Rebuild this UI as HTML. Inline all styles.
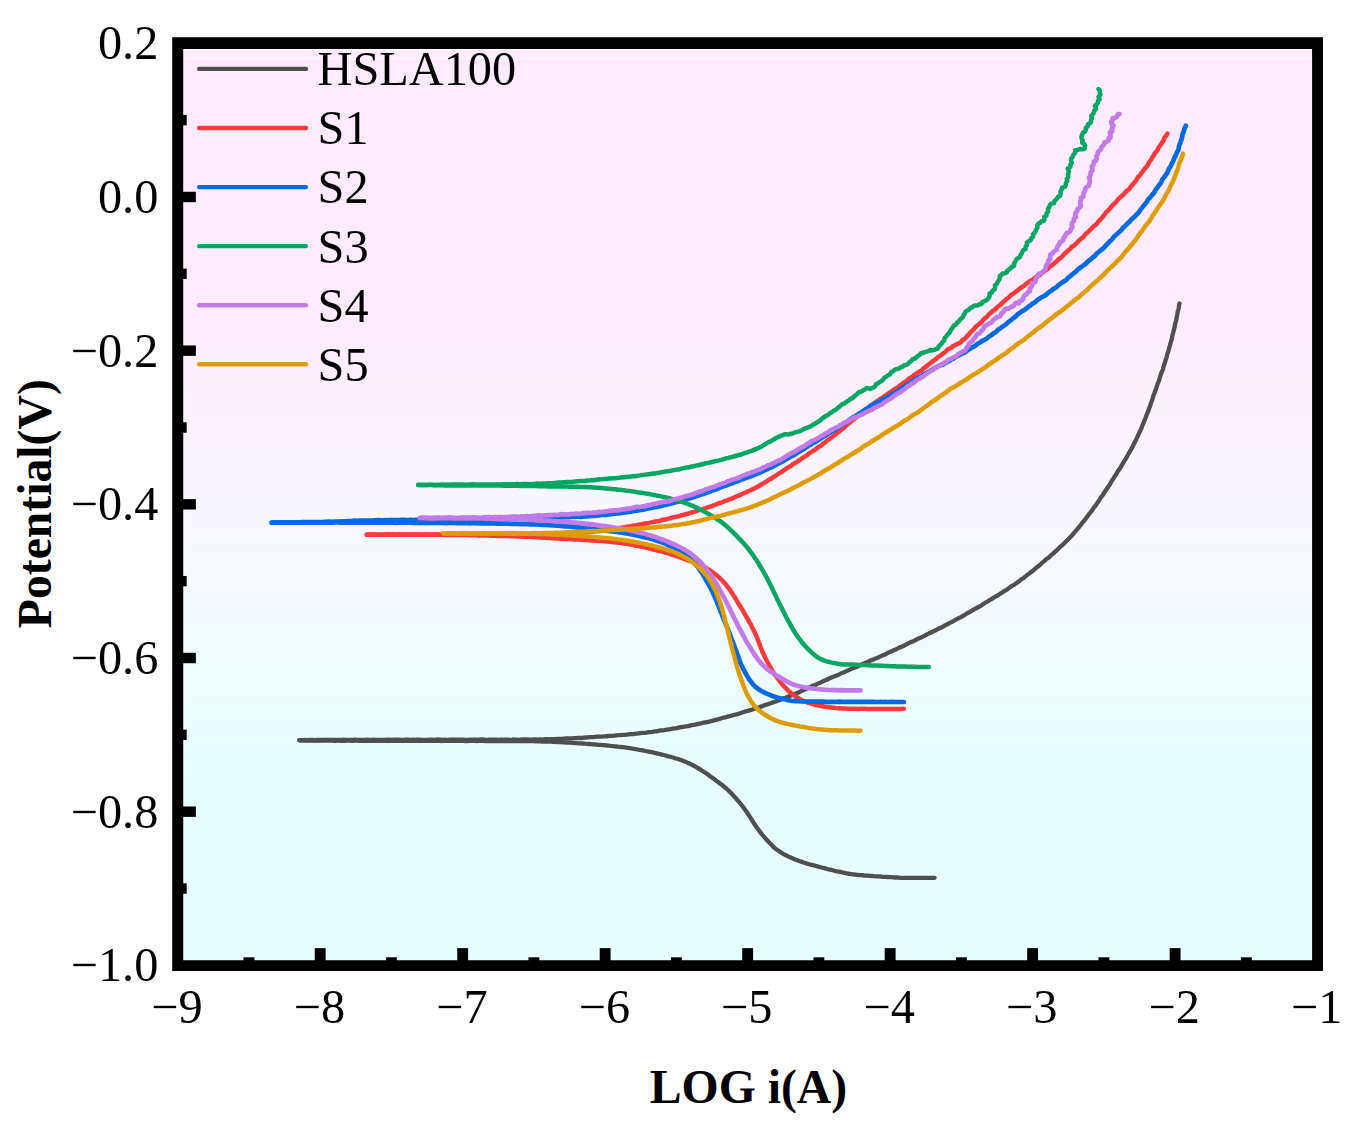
<!DOCTYPE html>
<html><head><meta charset="utf-8"><title>Polarization curves</title>
<style>
html,body{margin:0;padding:0;background:#fff;}
body{width:1350px;height:1122px;overflow:hidden;}
svg{display:block;}
text{font-family:"Liberation Serif",serif;fill:#000;}
</style></head><body>
<svg width="1350" height="1122" viewBox="0 0 1350 1122">
<defs>
<linearGradient id="bg" x1="0" y1="0" x2="0" y2="1">
<stop offset="0" stop-color="#ffebfe"/>
<stop offset="0.26" stop-color="#ffebfe"/>
<stop offset="0.42" stop-color="#fbf3fd"/>
<stop offset="0.56" stop-color="#f6f8fe"/>
<stop offset="0.69" stop-color="#eefcfe"/>
<stop offset="0.80" stop-color="#e6fffe"/>
<stop offset="1" stop-color="#e6fffe"/>
</linearGradient>
</defs>
<rect x="0" y="0" width="1350" height="1122" fill="#fff"/>
<rect x="184.2" y="49.9" width="1130" height="912" fill="url(#bg)"/>
<rect x="184.2" y="49.9" width="1130" height="10.2" fill="#ffeffe"/>
<rect x="184.2" y="60.1" width="1130" height="3" fill="#ffe7fd"/>
<path d="M299.3,740.3 L300.3,740.3 L301.2,740.2 L302.0,740.3 L303.0,740.4 L304.0,740.5 L305.1,740.5 L306.4,740.5 L308.0,740.5 L309.8,740.5 L312.0,740.6 L314.6,740.6 L317.7,740.6 L321.2,740.6 L325.3,740.7 L330.0,740.7 L331.3,740.7 L332.6,740.7 L334.0,740.8 L335.5,740.8 L337.0,740.7 L338.6,740.7 L340.2,740.8 L341.9,740.8 L343.6,740.8 L345.4,740.8 L347.2,740.7 L349.1,740.7 L351.0,740.8 L352.9,740.8 L354.9,740.7 L356.9,740.7 L358.9,740.8 L361.0,740.8 L363.1,740.8 L365.2,740.8 L367.4,740.7 L369.6,740.9 L371.8,740.8 L374.0,740.8 L376.2,740.8 L378.4,740.7 L380.7,740.8 L383.0,740.8 L385.3,740.8 L387.5,740.8 L389.8,740.9 L392.1,740.9 L394.4,740.8 L396.7,740.8 L399.0,740.8 L401.3,740.8 L403.6,740.8 L405.9,740.8 L408.1,740.8 L410.4,740.9 L412.6,740.9 L414.9,740.8 L417.1,740.9 L419.3,740.9 L421.4,740.8 L423.6,740.8 L425.7,740.8 L427.8,740.8 L429.8,740.9 L431.9,740.8 L433.9,740.8 L435.8,740.9 L437.7,740.9 L439.6,740.9 L441.5,741.0 L443.3,740.9 L445.0,740.9 L446.7,740.9 L448.4,740.9 L450.0,740.9 L452.7,740.9 L455.3,740.9 L457.9,740.9 L460.4,740.9 L462.9,740.9 L465.3,741.0 L467.7,741.0 L470.1,740.9 L472.4,740.9 L474.6,740.9 L476.8,741.0 L479.0,740.9 L481.1,740.9 L483.2,740.9 L485.2,741.0 L487.2,741.0 L489.2,741.0 L491.2,741.0 L493.1,740.9 L494.9,741.0 L496.8,741.0 L498.6,741.0 L500.4,740.9 L502.1,741.0 L503.9,741.0 L505.6,741.0 L507.3,741.0 L508.9,741.0 L510.6,741.0 L512.2,741.0 L513.8,741.1 L515.3,741.1 L516.9,741.1 L518.5,741.1 L520.0,741.1 L522.7,741.1 L525.2,741.2 L527.6,741.1 L529.7,741.1 L531.8,741.2 L533.7,741.2 L535.5,741.3 L537.3,741.3 L539.0,741.3 L540.6,741.3 L542.3,741.5 L543.9,741.5 L545.6,741.5 L547.2,741.5 L549.0,741.6 L550.8,741.7 L552.8,741.8 L554.8,741.9 L557.0,742.0 L558.8,742.0 L560.6,742.2 L562.4,742.3 L564.3,742.4 L566.3,742.5 L568.3,742.6 L570.3,742.7 L572.3,742.9 L574.4,743.0 L576.5,743.1 L578.6,743.3 L580.7,743.4 L582.8,743.5 L584.9,743.7 L586.9,743.8 L589.0,744.0 L591.1,744.2 L593.1,744.4 L595.1,744.5 L597.0,744.6 L598.9,744.8 L600.8,744.9 L602.6,745.1 L604.3,745.2 L606.0,745.3 L608.4,745.6 L610.6,745.9 L612.8,746.1 L614.9,746.3 L617.0,746.5 L618.9,746.8 L620.9,747.0 L622.7,747.2 L624.6,747.4 L626.4,747.7 L628.2,748.0 L630.0,748.2 L631.9,748.5 L633.7,748.8 L635.6,749.1 L637.5,749.5 L639.4,749.9 L641.4,750.2 L643.4,750.5 L645.4,751.0 L647.5,751.4 L649.6,751.8 L651.7,752.2 L653.8,752.6 L655.8,753.1 L657.9,753.6 L659.9,754.0 L661.9,754.6 L663.9,755.0 L665.8,755.5 L667.6,756.1 L669.5,756.5 L671.2,757.0 L672.9,757.5 L675.1,758.2 L677.3,758.8 L679.3,759.5 L681.2,760.1 L683.0,760.8 L684.7,761.6 L686.5,762.3 L688.2,763.0 L689.9,763.8 L691.6,764.6 L693.4,765.5 L695.2,766.5 L696.9,767.5 L698.7,768.5 L700.5,769.6 L702.3,770.8 L704.1,772.0 L706.0,773.2 L707.8,774.4 L709.5,775.7 L711.2,777.0 L712.9,778.1 L714.5,779.3 L716.0,780.5 L717.4,781.5 L719.3,782.9 L721.0,784.2 L722.6,785.3 L724.0,786.6 L725.4,787.8 L726.8,788.9 L728.1,790.2 L729.5,791.5 L731.0,793.0 L732.2,794.3 L733.4,795.6 L734.7,797.0 L736.0,798.4 L737.2,799.8 L738.5,801.3 L739.8,802.8 L741.0,804.4 L742.3,805.9 L743.5,807.5 L744.7,809.2 L745.8,810.8 L747.0,812.4 L748.1,814.1 L749.2,815.8 L750.3,817.5 L751.4,819.3 L752.6,821.0 L753.7,822.8 L754.8,824.5 L755.9,826.2 L757.0,827.7 L758.1,829.3 L759.5,831.1 L760.8,832.9 L762.2,834.6 L763.7,836.3 L765.0,837.9 L766.4,839.5 L767.8,841.0 L769.1,842.4 L770.3,843.7 L771.5,844.8 L773.1,846.6 L774.5,847.9 L775.9,849.0 L777.2,849.9 L778.5,850.9 L780.0,851.8 L781.5,852.8 L783.1,853.8 L784.8,854.7 L786.5,855.5 L788.2,856.4 L790.0,857.3 L791.9,858.1 L793.8,858.9 L795.8,859.7 L797.8,860.4 L799.8,861.2 L802.0,861.9 L803.7,862.5 L805.3,863.0 L806.8,863.6 L808.5,864.0 L810.5,864.6 L813.0,865.2 L816.0,866.0 L817.5,866.4 L819.0,866.8 L820.7,867.2 L822.5,867.7 L824.4,868.2 L826.3,868.7 L828.3,869.3 L830.4,869.7 L832.5,870.2 L834.7,870.8 L836.8,871.3 L839.0,871.7 L841.1,872.2 L843.3,872.6 L845.3,873.1 L847.4,873.5 L849.4,873.8 L851.4,874.1 L853.4,874.5 L855.4,874.7 L857.5,874.9 L859.6,875.1 L861.7,875.2 L863.7,875.5 L865.8,875.6 L867.9,875.7 L869.9,875.9 L871.9,876.0 L873.9,876.2 L875.8,876.3 L877.7,876.4 L879.5,876.4 L881.2,876.6 L882.9,876.8 L885.3,876.9 L887.5,877.0 L889.6,877.1 L891.5,877.2 L893.4,877.4 L895.2,877.5 L897.0,877.5 L898.9,877.6 L900.9,877.8 L902.9,877.8 L905.2,877.8 L907.0,877.9 L909.0,877.8 L911.1,877.9 L913.3,877.9 L915.6,877.8 L917.9,877.9 L920.2,877.9 L922.4,877.9 L924.6,877.9 L926.7,877.8 L928.7,877.9 L930.5,877.9 L932.1,877.8 L933.5,877.8 L934.6,877.8" fill="none" stroke="#4f4f4f" stroke-width="4.3" stroke-linecap="round" stroke-linejoin="round"/>
<path d="M299.3,740.2 L300.3,740.3 L301.2,740.2 L302.0,740.2 L303.0,740.1 L303.9,740.1 L305.1,740.0 L306.4,740.1 L308.0,740.2 L309.8,740.0 L312.0,740.0 L314.6,740.1 L317.7,740.0 L321.2,740.0 L325.3,739.8 L330.0,739.8 L331.3,739.9 L332.6,739.9 L334.0,739.9 L335.5,739.8 L337.0,739.9 L338.6,740.0 L340.2,740.0 L341.9,739.8 L343.6,739.7 L345.4,739.8 L347.2,739.8 L349.1,739.8 L351.0,739.9 L352.9,739.9 L354.9,739.7 L356.9,739.8 L358.9,740.0 L361.0,739.9 L363.1,739.8 L365.2,739.8 L367.4,739.7 L369.6,739.8 L371.8,739.9 L374.0,739.7 L376.2,739.8 L378.4,739.8 L380.7,739.8 L383.0,740.0 L385.3,739.8 L387.5,739.6 L389.8,739.7 L392.1,739.8 L394.4,739.7 L396.7,739.7 L399.0,739.7 L401.3,739.9 L403.6,740.0 L405.9,739.7 L408.1,739.7 L410.4,739.8 L412.6,739.7 L414.9,739.8 L417.1,739.6 L419.3,739.6 L421.4,739.8 L423.6,739.9 L425.7,739.8 L427.8,739.8 L429.8,739.7 L431.9,739.6 L433.9,739.8 L435.8,739.7 L437.7,739.5 L439.6,739.6 L441.5,739.7 L443.3,739.8 L445.0,739.7 L446.7,739.8 L448.4,739.8 L450.0,739.6 L452.7,739.7 L455.3,739.7 L457.9,739.6 L460.4,739.6 L462.9,739.6 L465.3,739.8 L467.7,739.9 L470.1,739.6 L472.4,739.7 L474.6,739.7 L476.8,739.6 L479.0,739.7 L481.1,739.5 L483.2,739.5 L485.2,739.7 L487.2,739.8 L489.2,739.7 L491.2,739.7 L493.1,739.7 L494.9,739.7 L496.8,739.7 L498.6,739.8 L500.4,739.7 L502.1,739.6 L503.9,739.6 L505.6,739.6 L507.3,739.6 L508.9,739.7 L510.6,739.8 L512.2,739.7 L513.8,739.5 L515.4,739.6 L516.9,739.7 L518.5,739.8 L520.0,739.6 L522.7,739.5 L525.2,739.5 L527.6,739.5 L529.7,739.6 L531.8,739.6 L533.7,739.4 L535.5,739.5 L537.3,739.6 L539.0,739.5 L540.6,739.5 L542.3,739.6 L543.9,739.4 L545.6,739.2 L547.2,739.2 L549.0,739.3 L550.8,739.2 L552.8,739.1 L554.8,739.1 L557.0,739.0 L558.7,739.0 L560.5,739.0 L562.4,738.9 L564.2,738.7 L566.1,738.5 L568.0,738.5 L570.0,738.3 L571.9,738.3 L573.9,738.2 L575.9,738.1 L578.0,737.9 L580.0,738.0 L582.1,738.0 L584.1,737.7 L586.1,737.5 L588.2,737.4 L590.2,737.1 L592.3,737.2 L594.3,737.1 L596.3,736.7 L598.3,736.7 L600.3,736.6 L602.2,736.6 L604.1,736.4 L606.0,736.3 L608.1,736.0 L610.2,735.8 L612.3,735.8 L614.4,735.6 L616.4,735.3 L618.5,735.2 L620.5,735.1 L622.5,734.9 L624.6,734.9 L626.6,734.7 L628.6,734.3 L630.6,734.2 L632.6,734.1 L634.6,733.8 L636.6,733.6 L638.6,733.4 L640.5,733.1 L642.5,732.9 L644.6,732.9 L646.6,732.6 L648.6,732.2 L650.6,732.1 L652.6,731.8 L654.5,731.4 L656.5,731.3 L658.5,730.9 L660.5,730.4 L662.5,730.3 L664.5,730.1 L666.6,729.7 L668.6,729.5 L670.6,729.1 L672.6,728.7 L674.6,728.4 L676.6,728.2 L678.6,727.7 L680.5,727.2 L682.4,727.0 L684.3,726.6 L686.2,726.3 L688.1,726.1 L689.9,725.6 L691.7,725.2 L693.5,724.9 L695.2,724.7 L697.5,724.1 L699.7,723.7 L701.8,723.1 L703.9,722.5 L706.1,722.3 L708.1,721.8 L710.1,721.3 L712.0,720.8 L714.0,720.3 L715.9,719.8 L717.7,719.4 L719.6,718.9 L721.4,718.3 L723.2,717.7 L725.0,717.4 L726.8,716.9 L728.6,716.4 L730.7,715.9 L732.8,715.3 L734.7,714.7 L736.6,714.3 L738.5,713.8 L740.3,713.2 L742.1,712.5 L744.0,712.0 L745.8,711.3 L747.7,710.9 L749.6,710.4 L751.6,709.7 L753.6,708.9 L755.7,708.4 L757.4,707.9 L759.2,707.2 L760.9,706.6 L762.7,706.0 L764.5,705.2 L766.3,704.6 L768.2,704.1 L770.1,703.4 L772.0,702.7 L773.9,702.1 L775.8,701.4 L777.8,700.7 L779.7,700.1 L781.6,699.3 L783.4,698.4 L785.4,697.8 L787.3,697.1 L789.1,696.3 L790.9,695.5 L792.8,694.8 L794.7,693.9 L796.6,693.3 L798.5,692.6 L800.3,691.6 L802.1,690.7 L804.0,689.9 L805.8,689.0 L807.7,688.2 L809.6,687.4 L811.4,686.4 L813.3,685.6 L815.2,684.9 L817.1,684.1 L818.9,683.2 L820.8,682.4 L822.6,681.5 L824.4,680.6 L826.4,680.0 L828.2,679.0 L830.1,678.1 L832.0,677.3 L834.0,676.5 L835.9,675.7 L837.8,675.0 L839.7,674.2 L841.5,673.2 L843.5,672.5 L845.3,671.7 L847.1,670.8 L849.0,670.1 L850.8,669.2 L852.5,668.3 L854.3,667.7 L856.1,667.1 L858.0,666.2 L859.9,665.3 L861.8,664.5 L863.6,663.7 L865.3,662.9 L867.1,662.3 L868.8,661.4 L870.5,660.5 L872.3,659.9 L874.0,659.2 L875.8,658.4 L877.7,657.7 L879.5,656.8 L881.4,655.9 L883.4,655.1 L885.2,654.4 L886.9,653.4 L888.6,652.5 L890.4,651.8 L892.2,650.9 L894.1,650.1 L896.0,649.4 L897.9,648.4 L899.7,647.4 L901.7,646.7 L903.7,645.8 L905.5,644.8 L907.4,643.9 L909.3,642.8 L911.2,642.0 L913.2,641.2 L915.1,640.3 L916.9,639.3 L918.6,638.5 L920.5,637.8 L922.2,636.9 L924.0,636.1 L925.7,635.2 L927.4,634.2 L929.2,633.3 L931.0,632.5 L932.7,631.7 L934.5,630.8 L936.3,630.0 L938.0,629.0 L939.7,628.1 L941.6,627.4 L943.3,626.5 L945.0,625.4 L946.8,624.5 L948.5,623.6 L950.3,622.7 L952.1,621.8 L953.8,620.9 L955.5,619.8 L957.3,618.8 L959.1,618.0 L960.9,617.1 L962.6,616.1 L964.4,615.1 L966.1,614.0 L967.8,612.9 L969.7,612.1 L971.4,611.0 L973.1,609.9 L974.9,608.9 L976.7,608.0 L978.5,607.0 L980.3,606.1 L982.0,605.0 L983.7,603.7 L985.3,602.7 L987.1,601.8 L988.8,600.7 L990.5,599.7 L992.2,598.6 L993.9,597.5 L995.6,596.5 L997.5,595.6 L999.1,594.5 L1000.8,593.3 L1002.5,592.3 L1004.2,591.1 L1005.9,590.1 L1007.6,589.1 L1009.2,587.9 L1010.7,586.7 L1012.4,585.7 L1014.1,584.8 L1015.6,583.8 L1017.1,582.6 L1018.9,581.4 L1020.5,580.0 L1022.2,578.8 L1024.0,577.8 L1025.5,576.4 L1027.1,575.1 L1028.7,573.9 L1030.3,572.7 L1031.9,571.5 L1033.5,570.3 L1034.9,569.0 L1036.3,567.7 L1037.9,566.5 L1039.5,565.3 L1040.9,564.0 L1042.3,562.6 L1043.9,561.4 L1045.3,560.0 L1046.9,558.7 L1048.6,557.6 L1050.0,556.3 L1051.5,554.9 L1053.0,553.6 L1054.5,552.3 L1056.0,550.9 L1057.5,549.6 L1058.9,548.2 L1060.2,546.8 L1061.7,545.6 L1063.2,544.3 L1064.5,543.0 L1065.8,541.7 L1067.2,540.4 L1068.4,539.1 L1069.9,537.5 L1071.4,536.1 L1072.8,534.5 L1074.0,532.8 L1075.3,531.3 L1076.6,529.8 L1078.0,528.3 L1079.2,526.8 L1080.5,525.4 L1081.6,523.8 L1082.7,522.3 L1084.0,521.0 L1085.1,519.5 L1086.2,518.0 L1087.5,516.4 L1088.6,514.7 L1089.8,513.1 L1091.1,511.7 L1092.3,510.2 L1093.2,508.6 L1094.3,507.1 L1095.5,505.6 L1096.6,504.0 L1097.7,502.4 L1098.9,500.8 L1100.0,499.0 L1100.9,497.4 L1102.1,495.9 L1103.2,494.4 L1104.2,492.7 L1105.3,491.0 L1106.5,489.4 L1107.5,487.7 L1108.7,486.1 L1109.9,484.4 L1110.8,482.6 L1111.8,480.9 L1112.9,479.3 L1114.0,477.6 L1115.0,476.0 L1116.2,474.3 L1117.1,472.5 L1118.2,470.7 L1119.5,469.1 L1120.6,467.4 L1121.6,465.6 L1122.6,463.9 L1123.6,462.2 L1124.6,460.5 L1125.7,458.9 L1126.7,457.2 L1127.5,455.6 L1128.4,453.9 L1129.5,452.2 L1130.5,450.4 L1131.6,448.7 L1132.5,447.0 L1133.2,445.3 L1134.0,443.6 L1135.0,442.0 L1135.8,440.3 L1136.6,438.5 L1137.4,436.8 L1138.3,435.0 L1139.0,433.3 L1139.8,431.6 L1140.7,429.9 L1141.5,428.2 L1142.1,426.3 L1142.8,424.5 L1143.6,422.8 L1144.3,420.9 L1145.1,419.2 L1145.8,417.3 L1146.4,415.5 L1147.1,413.7 L1147.9,411.9 L1148.6,410.1 L1149.2,408.2 L1150.0,406.4 L1150.5,404.5 L1151.1,402.6 L1151.9,400.8 L1152.5,398.9 L1153.0,397.0 L1153.6,395.1 L1154.4,393.3 L1155.0,391.4 L1155.7,389.6 L1156.4,387.7 L1157.0,385.8 L1157.6,383.9 L1158.4,382.2 L1159.1,380.3 L1159.6,378.4 L1160.2,376.5 L1160.8,374.6 L1161.4,372.8 L1162.3,371.0 L1163.0,369.2 L1163.4,367.2 L1163.9,365.4 L1164.6,363.6 L1165.2,361.7 L1165.7,359.8 L1166.4,358.0 L1166.8,356.1 L1167.2,354.3 L1167.9,352.5 L1168.5,350.6 L1169.0,348.8 L1169.5,346.9 L1170.1,344.9 L1170.6,342.8 L1171.2,340.8 L1171.8,338.8 L1172.1,336.7 L1172.6,334.7 L1173.2,332.6 L1173.7,330.6 L1174.2,328.6 L1174.7,326.6 L1175.0,324.6 L1175.5,322.5 L1176.2,320.4 L1176.5,318.2 L1177.0,315.9 L1177.4,313.7 L1177.8,311.5 L1178.4,309.5 L1178.8,307.6 L1179.0,305.9 L1179.2,304.5 L1179.6,303.4" fill="none" stroke="#4f4f4f" stroke-width="4.3" stroke-linecap="round" stroke-linejoin="round"/>
<path d="M366.7,534.7 L367.7,534.7 L368.9,534.7 L370.1,534.7 L371.4,534.7 L372.9,534.6 L374.3,534.7 L375.9,534.7 L377.6,534.7 L379.3,534.7 L381.1,534.8 L382.9,534.7 L384.8,534.7 L386.8,534.7 L388.8,534.7 L390.8,534.7 L393.0,534.6 L395.1,534.7 L397.3,534.7 L399.5,534.7 L401.7,534.7 L404.0,534.7 L406.3,534.7 L408.6,534.7 L410.9,534.7 L413.2,534.7 L415.5,534.7 L417.8,534.8 L420.1,534.7 L422.4,534.8 L424.7,534.7 L427.0,534.7 L429.3,534.8 L431.5,534.7 L433.7,534.8 L435.9,534.7 L438.1,534.8 L440.2,534.8 L442.2,534.8 L444.3,534.9 L446.2,534.8 L448.1,534.9 L450.0,534.9 L452.2,534.9 L454.4,534.9 L456.6,534.9 L458.8,535.1 L461.0,535.1 L463.3,535.1 L465.5,535.1 L467.7,535.1 L469.9,535.2 L472.1,535.2 L474.3,535.3 L476.5,535.3 L478.7,535.4 L480.9,535.5 L483.0,535.5 L485.2,535.5 L487.3,535.6 L489.4,535.6 L491.4,535.7 L493.5,535.7 L495.5,535.8 L497.5,535.9 L499.5,535.9 L501.4,536.0 L503.3,536.0 L505.2,536.0 L507.0,536.1 L508.8,536.1 L510.5,536.2 L512.2,536.3 L513.9,536.3 L515.5,536.3 L517.0,536.4 L518.5,536.5 L520.0,536.5 L523.1,536.7 L525.7,536.6 L528.0,536.8 L529.9,536.8 L531.6,536.9 L533.1,537.0 L534.5,537.1 L535.9,537.2 L537.3,537.3 L538.7,537.4 L540.4,537.5 L542.3,537.6 L544.5,537.8 L547.0,537.9 L550.0,538.1 L551.5,538.2 L553.0,538.3 L554.6,538.4 L556.3,538.5 L558.1,538.6 L559.9,538.7 L561.8,538.8 L563.7,538.8 L565.6,538.9 L567.7,539.0 L569.7,539.1 L571.8,539.3 L573.9,539.4 L576.0,539.5 L578.2,539.6 L580.4,539.8 L582.5,539.9 L584.7,540.0 L586.9,540.1 L589.1,540.2 L591.3,540.4 L593.5,540.5 L595.6,540.7 L597.7,540.8 L599.8,540.9 L601.9,541.1 L604.0,541.2 L606.0,541.4 L607.9,541.5 L609.8,541.7 L611.7,542.0 L613.5,542.2 L615.2,542.3 L616.9,542.5 L619.3,542.8 L621.6,543.1 L623.9,543.5 L626.2,543.8 L628.4,544.2 L630.6,544.5 L632.7,544.9 L634.7,545.4 L636.8,545.7 L638.7,546.1 L640.7,546.5 L642.6,546.9 L644.5,547.4 L646.3,547.7 L648.1,548.2 L649.9,548.6 L651.6,549.0 L653.3,549.5 L655.0,549.9 L656.6,550.3 L658.2,550.7 L659.8,551.1 L661.4,551.4 L663.9,552.2 L666.2,552.8 L668.5,553.4 L670.6,554.0 L672.6,554.8 L674.5,555.4 L676.4,556.0 L678.2,556.6 L680.0,557.3 L681.7,557.9 L683.3,558.6 L684.9,559.2 L686.6,559.8 L688.2,560.4 L690.4,561.2 L692.5,562.0 L694.4,562.7 L696.3,563.4 L698.2,564.1 L699.9,564.8 L701.7,565.6 L703.4,566.5 L705.2,567.4 L707.0,568.5 L708.5,569.5 L710.1,570.5 L711.6,571.6 L713.2,572.7 L714.7,573.8 L716.3,575.1 L717.8,576.3 L719.3,577.7 L720.7,579.1 L722.2,580.4 L723.6,582.0 L725.0,583.5 L726.1,584.9 L727.2,586.4 L728.4,587.8 L729.6,589.3 L730.6,590.9 L731.7,592.5 L732.7,594.1 L733.8,595.8 L734.9,597.4 L735.9,599.2 L736.9,600.9 L737.9,602.6 L738.9,604.3 L740.0,606.0 L741.1,607.7 L742.1,609.4 L743.2,611.2 L744.1,613.0 L745.2,614.8 L746.3,616.6 L747.3,618.4 L748.3,620.2 L749.3,622.1 L750.4,623.8 L751.3,625.6 L752.2,627.5 L753.1,629.2 L754.0,631.0 L754.9,632.9 L755.8,634.8 L756.6,636.7 L757.4,638.6 L758.1,640.6 L758.9,642.5 L759.7,644.3 L760.3,646.2 L761.0,648.1 L761.8,649.9 L762.4,651.7 L763.2,653.3 L764.0,655.0 L765.0,657.1 L765.9,659.1 L766.9,661.0 L767.9,662.8 L768.8,664.6 L769.8,666.4 L770.8,668.2 L771.8,669.9 L772.9,671.6 L774.0,673.3 L775.1,675.0 L776.4,676.7 L777.7,678.4 L779.0,680.1 L780.2,681.8 L781.5,683.5 L782.9,685.0 L784.2,686.5 L785.6,687.9 L786.9,689.3 L788.5,690.9 L790.2,692.3 L791.8,693.7 L793.4,694.9 L795.1,696.1 L796.7,697.3 L798.5,698.3 L800.3,699.3 L802.1,700.2 L803.9,701.0 L805.7,701.8 L807.5,702.5 L809.5,703.1 L811.5,703.8 L813.6,704.3 L815.9,705.0 L817.6,705.3 L819.5,705.7 L821.3,706.0 L823.2,706.3 L825.2,706.7 L827.2,707.0 L829.3,707.3 L831.5,707.6 L833.7,707.8 L835.9,708.1 L838.2,708.3 L840.0,708.3 L841.9,708.4 L843.8,708.5 L845.7,708.6 L847.7,708.7 L849.7,708.7 L851.7,708.8 L853.8,708.8 L855.9,708.8 L858.1,708.9 L860.3,708.8 L862.5,708.8 L864.8,708.8 L867.1,708.9 L869.0,709.0 L871.0,708.9 L873.2,708.9 L875.5,709.0 L877.8,709.0 L880.1,709.0 L882.5,708.9 L884.9,708.9 L887.3,708.9 L889.6,709.0 L891.9,708.9 L894.1,708.9 L896.1,708.9 L898.0,708.9 L899.8,709.0 L901.4,708.9 L902.8,708.8 L903.9,708.8" fill="none" stroke="#fd3939" stroke-width="4.5" stroke-linecap="round" stroke-linejoin="round"/>
<path d="M366.7,534.7 L367.7,534.6 L368.9,534.5 L370.1,534.6 L371.4,534.7 L372.9,534.8 L374.3,534.7 L375.9,534.6 L377.6,534.7 L379.3,534.7 L381.1,534.7 L382.9,534.8 L384.8,534.8 L386.8,534.6 L388.8,534.6 L390.8,534.8 L393.0,534.6 L395.1,534.7 L397.3,534.7 L399.5,534.6 L401.7,534.8 L404.0,534.7 L406.3,534.6 L408.6,534.7 L410.9,534.7 L413.2,534.8 L415.5,534.6 L417.8,534.6 L420.1,534.8 L422.4,534.7 L424.7,534.6 L427.0,534.7 L429.3,534.7 L431.5,534.8 L433.7,534.7 L435.9,534.6 L438.1,534.8 L440.2,534.7 L442.2,534.6 L444.3,534.6 L446.2,534.6 L448.1,534.7 L450.0,534.7 L452.2,534.7 L454.4,534.6 L456.6,534.8 L458.8,534.7 L461.0,534.8 L463.3,534.7 L465.5,534.7 L467.7,534.7 L469.9,534.7 L472.1,534.6 L474.3,534.7 L476.5,534.7 L478.7,534.9 L480.9,534.8 L483.0,534.7 L485.2,534.8 L487.3,534.8 L489.4,534.7 L491.4,534.7 L493.5,534.8 L495.5,534.7 L497.5,534.8 L499.5,534.9 L501.4,534.7 L503.3,534.8 L505.2,534.9 L507.0,534.9 L508.8,534.9 L510.5,534.9 L512.2,534.8 L513.9,534.7 L515.5,534.9 L517.0,534.9 L518.5,534.7 L520.0,534.7 L523.1,534.7 L525.9,534.8 L528.3,534.9 L530.5,534.7 L532.4,534.8 L534.2,534.9 L535.8,534.9 L537.4,534.7 L538.9,534.7 L540.4,534.7 L542.0,534.5 L543.7,534.5 L545.6,534.5 L547.7,534.4 L550.0,534.2 L551.7,534.2 L553.6,534.2 L555.5,534.1 L557.5,534.0 L559.6,533.8 L561.7,533.7 L563.9,533.7 L566.1,533.5 L568.3,533.1 L570.5,533.2 L572.8,533.0 L575.0,533.0 L577.2,532.8 L579.4,532.5 L581.6,532.6 L583.7,532.4 L585.7,532.2 L587.7,532.1 L589.5,532.0 L591.3,531.8 L593.0,531.7 L594.6,531.5 L597.4,531.1 L599.7,531.1 L601.7,530.9 L603.4,530.6 L605.0,530.4 L606.5,530.3 L608.1,530.0 L609.8,529.7 L611.8,529.6 L614.1,529.0 L616.9,528.5 L618.4,528.3 L620.0,528.0 L621.6,527.7 L623.3,527.4 L625.1,527.1 L626.9,526.7 L628.8,526.6 L630.7,526.3 L632.7,525.8 L634.7,525.5 L636.7,525.2 L638.8,524.8 L640.9,524.5 L642.9,524.0 L645.0,523.5 L647.1,523.2 L649.2,522.9 L651.3,522.4 L653.4,522.0 L655.4,521.5 L657.5,521.2 L659.5,520.9 L661.4,520.3 L663.3,519.8 L665.3,519.5 L667.2,518.9 L669.2,518.5 L671.1,518.0 L673.0,517.4 L674.9,517.0 L676.9,516.6 L678.9,516.1 L680.8,515.5 L682.7,515.0 L684.7,514.5 L686.6,514.0 L688.6,513.5 L690.5,512.8 L692.4,512.2 L694.4,511.7 L696.3,511.1 L698.2,510.4 L700.2,509.9 L702.1,509.2 L704.1,508.7 L706.0,508.1 L707.9,507.3 L709.8,506.7 L711.7,506.2 L713.6,505.3 L715.5,504.7 L717.4,503.9 L719.4,503.2 L721.4,502.5 L723.3,501.8 L725.2,500.9 L727.2,500.3 L729.1,499.5 L731.1,498.8 L733.0,498.1 L734.8,497.2 L736.7,496.3 L738.5,495.6 L740.4,494.9 L742.1,494.0 L743.9,493.2 L745.6,492.5 L747.3,491.7 L749.0,491.0 L750.6,490.3 L752.6,489.1 L754.6,488.3 L756.5,487.4 L758.3,486.3 L760.0,485.4 L761.6,484.3 L763.2,483.4 L764.8,482.5 L766.4,481.6 L767.9,480.4 L769.5,479.4 L771.2,478.6 L772.8,477.5 L774.6,476.4 L776.3,475.3 L778.1,474.0 L780.0,472.9 L782.1,471.7 L783.4,470.5 L784.9,469.6 L786.3,468.6 L787.8,467.6 L789.4,466.6 L791.1,465.8 L792.5,464.5 L794.1,463.5 L795.9,462.6 L797.6,461.6 L799.1,460.4 L800.8,459.3 L802.4,458.1 L804.1,456.9 L805.9,456.0 L807.5,454.7 L809.1,453.4 L810.9,452.3 L812.7,451.2 L814.5,450.1 L816.2,448.9 L817.8,447.5 L819.5,446.4 L821.4,445.4 L822.9,444.0 L824.6,442.7 L826.1,441.5 L827.7,440.2 L829.4,439.1 L831.1,437.8 L832.6,436.4 L834.4,435.2 L836.2,433.9 L837.8,432.4 L839.6,431.1 L841.3,429.7 L843.1,428.4 L844.8,427.0 L846.3,425.3 L848.0,423.9 L849.8,422.7 L851.4,421.2 L853.1,420.0 L854.8,418.6 L856.3,417.2 L858.0,416.1 L859.6,414.9 L861.0,413.6 L862.4,412.3 L863.9,411.2 L865.2,410.1 L866.6,409.1 L867.9,408.1 L869.0,407.0 L871.2,405.2 L873.4,403.9 L875.2,402.6 L876.8,401.4 L878.4,400.4 L879.7,399.3 L881.1,398.5 L882.6,397.9 L883.7,396.8 L885.0,395.8 L886.4,394.9 L887.9,393.9 L889.5,392.7 L891.4,391.5 L892.8,390.4 L894.2,389.3 L895.9,388.4 L897.7,387.5 L899.2,386.1 L900.8,384.8 L902.5,383.7 L904.2,382.4 L906.1,381.3 L907.7,379.9 L909.3,378.4 L911.2,377.5 L912.9,376.2 L914.5,374.8 L916.3,373.8 L917.9,372.5 L919.6,371.5 L921.3,370.6 L922.7,369.4 L924.4,367.7 L926.3,366.5 L928.1,365.0 L929.8,363.6 L931.6,362.3 L933.2,360.8 L935.0,359.6 L936.7,358.4 L938.2,356.9 L939.9,355.9 L941.5,354.8 L943.0,353.6 L944.5,352.5 L945.8,351.4 L946.9,350.1 L949.2,348.7 L951.2,347.8 L952.7,346.3 L954.5,345.4 L956.1,344.7 L957.7,343.8 L959.5,343.0 L961.2,341.8 L962.7,340.0 L964.1,339.1 L965.6,338.1 L966.7,336.7 L967.9,335.3 L969.3,334.0 L970.4,332.4 L971.9,331.1 L973.4,329.8 L974.6,328.2 L975.9,326.6 L977.6,325.3 L979.2,324.0 L980.8,322.6 L982.1,321.3 L983.3,319.7 L984.8,318.4 L986.5,317.2 L987.9,315.7 L989.2,314.0 L990.8,312.7 L992.4,311.3 L994.1,310.1 L995.8,308.8 L997.1,307.2 L998.7,306.0 L1000.4,305.0 L1001.6,303.5 L1002.9,302.3 L1004.7,300.8 L1006.2,299.2 L1008.0,298.0 L1009.6,296.8 L1010.8,295.1 L1012.5,294.1 L1014.1,293.0 L1015.7,291.8 L1017.3,290.6 L1019.0,289.3 L1020.6,287.8 L1022.3,286.9 L1023.9,285.9 L1025.3,284.5 L1026.9,283.3 L1028.6,282.1 L1030.3,280.9 L1032.2,280.0 L1033.8,278.7 L1035.4,277.3 L1037.2,276.5 L1038.9,275.6 L1040.4,274.4 L1041.7,273.3 L1043.1,272.4 L1044.9,270.7 L1046.7,269.7 L1048.0,268.7 L1049.1,267.4 L1050.2,266.1 L1052.0,265.3 L1053.7,263.6 L1056.1,261.8 L1057.3,260.9 L1058.3,259.4 L1059.8,258.4 L1061.4,257.3 L1062.8,255.8 L1064.1,254.1 L1065.8,252.8 L1067.4,251.3 L1069.1,249.8 L1070.7,248.3 L1072.1,246.5 L1074.2,245.5 L1075.8,244.0 L1077.2,242.4 L1078.7,240.9 L1080.1,239.6 L1081.5,238.3 L1083.0,237.3 L1084.4,235.4 L1085.9,233.7 L1087.6,232.5 L1089.0,231.0 L1090.4,229.6 L1091.8,228.3 L1093.1,226.8 L1094.5,225.7 L1096.0,224.7 L1097.2,223.3 L1098.2,221.8 L1099.3,220.4 L1100.7,219.4 L1102.1,217.6 L1103.5,216.0 L1104.7,214.3 L1105.8,212.6 L1107.4,211.3 L1108.8,209.9 L1110.0,208.4 L1111.2,206.8 L1112.6,205.3 L1114.1,203.8 L1115.6,202.6 L1116.8,201.0 L1117.9,199.4 L1119.4,198.1 L1120.9,196.8 L1122.3,195.5 L1123.8,194.1 L1125.2,192.6 L1126.5,191.0 L1128.4,189.9 L1129.8,188.2 L1130.8,186.7 L1132.0,185.3 L1133.3,183.8 L1134.5,182.3 L1135.9,180.9 L1136.9,179.1 L1137.8,177.3 L1139.3,176.0 L1140.6,174.5 L1141.6,172.7 L1142.9,171.2 L1144.1,169.7 L1145.2,168.1 L1146.7,166.6 L1147.9,164.9 L1148.7,162.9 L1150.0,161.2 L1151.3,159.5 L1152.1,157.6 L1153.4,156.0 L1154.3,154.2 L1155.4,152.5 L1156.8,151.2 L1157.8,149.6 L1158.4,148.0 L1159.8,146.1 L1161.1,144.2 L1162.3,142.3 L1163.5,140.5 L1164.1,138.5 L1165.0,136.9 L1166.2,135.7 L1167.0,134.5 L1167.4,133.5" fill="none" stroke="#fd3939" stroke-width="4.5" stroke-linecap="round" stroke-linejoin="round"/>
<path d="M271.7,522.7 L272.8,522.7 L273.9,522.7 L275.2,522.7 L276.5,522.7 L278.0,522.7 L279.5,522.7 L281.1,522.7 L282.8,522.7 L284.6,522.6 L286.4,522.7 L288.3,522.7 L290.3,522.7 L292.3,522.7 L294.4,522.7 L296.5,522.6 L298.6,522.7 L300.8,522.7 L303.1,522.6 L305.3,522.6 L307.6,522.6 L309.9,522.7 L312.2,522.6 L314.6,522.6 L316.9,522.6 L319.3,522.6 L321.6,522.7 L324.0,522.6 L326.3,522.6 L328.6,522.6 L330.9,522.6 L333.2,522.6 L335.4,522.5 L337.6,522.5 L339.8,522.6 L341.9,522.6 L344.0,522.7 L346.1,522.6 L348.1,522.6 L350.0,522.6 L352.1,522.6 L354.2,522.6 L356.3,522.6 L358.3,522.5 L360.3,522.6 L362.4,522.6 L364.4,522.6 L366.4,522.7 L368.3,522.6 L370.3,522.6 L372.3,522.7 L374.2,522.7 L376.2,522.6 L378.1,522.6 L380.1,522.6 L382.0,522.6 L383.9,522.7 L385.9,522.6 L387.8,522.6 L389.7,522.7 L391.7,522.6 L393.6,522.7 L395.6,522.8 L397.5,522.7 L399.5,522.7 L401.5,522.7 L403.5,522.7 L405.5,522.7 L407.5,522.7 L409.5,522.7 L411.6,522.7 L413.7,522.8 L415.8,522.8 L417.9,522.9 L420.0,522.8 L421.9,522.8 L423.8,522.9 L425.8,522.8 L427.7,522.9 L429.7,522.9 L431.7,522.8 L433.8,522.9 L435.8,522.9 L437.9,522.9 L440.0,523.0 L442.1,522.9 L444.2,522.9 L446.3,523.1 L448.5,523.0 L450.6,523.0 L452.7,523.0 L454.9,523.0 L457.0,523.1 L459.1,523.1 L461.3,523.1 L463.4,523.1 L465.5,523.1 L467.6,523.2 L469.7,523.3 L471.8,523.2 L473.8,523.2 L475.9,523.2 L477.9,523.3 L479.9,523.3 L481.9,523.3 L483.8,523.3 L485.8,523.4 L487.7,523.4 L489.5,523.4 L491.4,523.5 L493.2,523.5 L494.9,523.5 L496.7,523.6 L498.4,523.6 L500.0,523.6 L502.6,523.7 L505.0,523.6 L507.4,523.7 L509.8,523.8 L512.0,523.8 L514.2,523.9 L516.3,523.9 L518.4,524.0 L520.4,524.1 L522.4,524.1 L524.4,524.1 L526.3,524.2 L528.1,524.1 L530.0,524.3 L531.8,524.4 L533.6,524.4 L535.4,524.5 L537.2,524.5 L539.0,524.6 L540.8,524.7 L542.6,524.9 L544.4,524.9 L546.3,525.0 L548.1,525.1 L550.0,525.1 L552.1,525.3 L554.3,525.5 L556.4,525.6 L558.4,525.7 L560.5,525.9 L562.6,526.1 L564.6,526.3 L566.6,526.4 L568.6,526.5 L570.6,526.7 L572.6,526.9 L574.6,527.1 L576.6,527.3 L578.6,527.4 L580.6,527.6 L582.6,527.8 L584.6,528.0 L586.6,528.3 L588.6,528.5 L590.6,528.7 L592.6,529.0 L594.6,529.2 L596.5,529.5 L598.5,529.7 L600.5,529.9 L602.5,530.1 L604.5,530.4 L606.5,530.6 L608.5,530.9 L610.5,531.1 L612.5,531.4 L614.5,531.7 L616.5,532.0 L618.5,532.3 L620.5,532.5 L622.5,532.8 L624.4,533.1 L626.4,533.5 L628.3,533.8 L630.2,534.1 L632.0,534.4 L633.8,534.7 L635.6,535.1 L637.4,535.6 L639.1,535.9 L641.3,536.4 L643.4,536.9 L645.4,537.4 L647.5,538.0 L649.5,538.5 L651.5,539.0 L653.5,539.6 L655.4,540.2 L657.2,540.8 L659.1,541.5 L660.9,542.1 L662.7,542.7 L664.4,543.4 L666.1,544.1 L667.8,544.8 L669.4,545.5 L671.0,546.2 L672.6,546.9 L674.6,548.0 L676.4,549.0 L678.2,550.1 L680.0,551.1 L681.7,552.2 L683.3,553.3 L684.8,554.5 L686.4,555.7 L687.8,556.9 L689.3,558.2 L690.8,559.4 L692.1,560.8 L693.5,562.2 L694.9,563.7 L696.2,565.1 L697.4,566.6 L698.6,568.1 L699.7,569.8 L700.9,571.5 L702.0,573.1 L703.1,574.8 L704.2,576.6 L705.2,578.3 L706.1,580.2 L707.2,581.9 L708.2,583.7 L709.2,585.5 L710.1,587.2 L711.0,589.0 L711.9,590.8 L712.8,592.5 L713.6,594.3 L714.4,596.0 L715.2,597.8 L715.9,599.6 L716.6,601.4 L717.4,603.2 L718.1,605.0 L718.8,606.8 L719.6,608.6 L720.3,610.5 L721.0,612.3 L721.8,614.1 L722.5,616.0 L723.2,617.8 L723.9,619.6 L724.7,621.4 L725.5,623.3 L726.2,625.1 L726.9,627.0 L727.7,628.9 L728.5,630.8 L729.2,632.7 L730.0,634.5 L730.6,636.4 L731.3,638.2 L732.0,640.0 L732.7,641.7 L733.4,643.4 L734.0,645.0 L734.7,647.1 L735.5,649.1 L736.3,651.1 L736.9,653.0 L737.6,654.9 L738.2,656.7 L738.8,658.5 L739.5,660.2 L740.1,662.0 L740.7,663.7 L741.5,665.3 L742.3,667.0 L743.1,668.8 L744.2,670.6 L745.1,672.4 L746.1,674.2 L747.1,675.9 L748.1,677.6 L749.1,679.2 L750.3,680.7 L751.3,682.2 L752.4,683.5 L753.5,684.8 L755.0,686.4 L756.6,687.8 L758.2,688.9 L759.8,690.0 L761.4,691.0 L763.2,691.9 L765.0,692.8 L766.9,693.7 L768.7,694.4 L770.5,695.2 L772.3,696.0 L774.3,696.6 L776.2,697.3 L778.3,697.8 L780.3,698.4 L782.5,698.9 L784.7,699.3 L786.3,699.6 L787.5,699.9 L788.4,700.2 L789.4,700.4 L790.3,700.6 L791.6,700.8 L793.2,701.0 L795.4,701.1 L798.3,701.2 L802.2,701.4 L807.0,701.5 L808.3,701.5 L809.7,701.6 L811.2,701.5 L812.8,701.6 L814.4,701.7 L816.2,701.6 L818.0,701.6 L820.0,701.7 L821.9,701.7 L824.0,701.7 L826.1,701.8 L828.3,701.8 L830.5,701.8 L832.7,701.8 L835.0,701.8 L837.4,701.8 L839.7,701.7 L842.1,701.8 L844.6,701.9 L847.0,701.9 L849.4,701.9 L851.9,701.8 L854.4,701.9 L856.8,701.9 L859.3,701.9 L861.8,701.9 L864.2,701.9 L866.6,701.9 L869.0,701.9 L871.4,701.9 L873.7,701.9 L876.0,702.0 L878.3,702.0 L880.5,701.9 L882.6,702.0 L884.7,701.9 L886.8,702.0 L888.8,702.0 L890.7,701.9 L892.5,701.9 L894.2,702.0 L895.9,702.0 L897.5,702.0 L899.0,702.0 L900.4,702.0 L901.7,702.0 L902.8,702.0 L903.9,702.0" fill="none" stroke="#006ae1" stroke-width="4.7" stroke-linecap="round" stroke-linejoin="round"/>
<path d="M271.7,522.8 L272.8,522.6 L274.0,522.6 L275.4,522.7 L277.0,522.6 L278.6,522.4 L280.4,522.5 L282.3,522.6 L284.2,522.6 L286.3,522.5 L288.4,522.5 L290.6,522.4 L292.9,522.4 L295.2,522.5 L297.5,522.4 L299.9,522.3 L302.3,522.2 L304.7,522.1 L307.1,522.2 L309.4,522.2 L311.8,522.2 L314.1,522.2 L316.3,522.0 L318.5,522.1 L320.7,522.1 L322.7,522.0 L324.7,521.9 L326.6,521.8 L328.3,521.7 L330.0,521.7 L332.6,521.8 L335.0,521.7 L337.2,521.6 L339.2,521.6 L341.1,521.4 L342.9,521.4 L344.6,521.4 L346.3,521.3 L348.0,521.1 L349.6,521.1 L351.4,521.0 L353.1,520.8 L355.0,520.7 L357.0,520.9 L359.1,520.7 L361.5,520.7 L364.0,520.7 L365.6,520.5 L367.3,520.5 L368.9,520.6 L370.6,520.6 L372.4,520.5 L374.1,520.4 L375.9,520.4 L377.7,520.2 L379.5,520.2 L381.4,520.3 L383.3,520.3 L385.2,520.2 L387.1,520.3 L389.1,520.2 L391.1,520.1 L393.2,520.1 L395.2,520.2 L397.3,520.1 L399.5,520.1 L401.6,519.9 L403.8,519.8 L406.0,520.0 L408.3,520.0 L410.5,519.9 L412.9,520.0 L415.2,519.8 L417.6,519.9 L420.0,519.9 L421.7,519.8 L423.5,519.7 L425.3,519.7 L427.2,519.6 L429.1,519.5 L431.0,519.7 L433.0,519.7 L434.9,519.7 L437.0,519.7 L439.0,519.6 L441.1,519.5 L443.2,519.6 L445.3,519.6 L447.4,519.5 L449.6,519.5 L451.7,519.4 L453.9,519.3 L456.0,519.5 L458.2,519.5 L460.4,519.5 L462.5,519.5 L464.7,519.4 L466.9,519.3 L469.0,519.4 L471.1,519.4 L473.3,519.3 L475.4,519.3 L477.4,519.1 L479.5,519.2 L481.5,519.3 L483.6,519.3 L485.5,519.1 L487.5,519.2 L489.4,519.2 L491.3,519.1 L493.1,519.2 L494.9,519.2 L496.6,519.1 L498.3,519.0 L500.0,518.9 L502.6,518.8 L505.0,518.9 L507.4,518.9 L509.8,518.9 L512.0,518.8 L514.2,518.7 L516.3,518.6 L518.4,518.7 L520.4,518.6 L522.4,518.5 L524.4,518.4 L526.3,518.3 L528.1,518.2 L530.0,518.3 L531.8,518.3 L533.6,518.2 L535.4,518.1 L537.2,518.1 L539.0,518.0 L540.8,517.8 L542.6,517.9 L544.4,517.9 L546.3,517.7 L548.1,517.6 L550.0,517.5 L552.1,517.3 L554.3,517.4 L556.4,517.5 L558.4,517.4 L560.5,517.4 L562.6,517.3 L564.6,517.2 L566.6,517.2 L568.6,517.2 L570.6,517.0 L572.6,516.9 L574.6,516.9 L576.6,516.7 L578.6,516.7 L580.6,516.8 L582.6,516.7 L584.6,516.5 L586.6,516.4 L588.6,516.2 L590.6,516.1 L592.6,516.0 L594.6,515.9 L596.6,515.5 L598.6,515.4 L600.7,515.2 L602.7,515.0 L604.7,514.9 L606.8,514.8 L608.8,514.4 L610.8,514.3 L612.8,514.0 L614.8,513.7 L616.9,513.5 L618.9,513.4 L620.9,513.0 L622.9,512.7 L624.9,512.4 L626.9,512.1 L629.0,511.8 L631.0,511.6 L633.0,511.3 L635.1,510.9 L637.1,510.6 L639.1,510.2 L641.0,509.8 L643.0,509.6 L644.9,509.2 L646.8,508.7 L648.8,508.4 L650.7,508.0 L652.6,507.6 L654.6,507.3 L656.6,507.0 L658.5,506.5 L660.4,506.1 L662.4,505.6 L664.3,505.1 L666.3,504.8 L668.2,504.3 L670.1,503.7 L672.1,503.3 L674.0,502.8 L675.9,502.1 L677.9,501.8 L679.9,501.4 L681.8,500.7 L683.7,500.2 L685.6,499.7 L687.4,499.1 L689.3,498.5 L691.2,498.0 L693.0,497.3 L694.8,496.7 L696.7,496.0 L698.5,495.4 L700.4,494.8 L702.3,494.3 L704.2,493.7 L706.0,492.9 L707.9,492.3 L709.7,491.6 L711.5,490.8 L713.4,490.2 L715.3,489.6 L717.1,488.8 L719.0,488.0 L720.8,487.3 L722.7,486.6 L724.6,486.0 L726.5,485.5 L728.3,484.6 L730.2,483.9 L732.0,483.3 L733.8,482.5 L735.6,481.8 L737.5,481.4 L739.3,480.5 L741.1,479.8 L742.9,479.2 L744.7,478.4 L746.5,477.7 L748.4,477.2 L750.2,476.6 L752.0,475.8 L753.8,475.1 L755.6,474.3 L757.5,473.5 L759.4,472.7 L761.3,472.0 L763.1,471.1 L765.0,470.2 L767.0,469.3 L768.9,468.3 L770.9,467.5 L773.0,466.6 L774.5,465.7 L776.2,464.8 L777.8,464.0 L779.5,463.0 L781.2,462.1 L783.0,461.3 L784.7,460.3 L786.3,459.1 L788.0,458.1 L789.8,457.1 L791.6,456.1 L793.5,455.3 L795.3,454.2 L796.9,453.0 L798.7,452.0 L800.5,450.9 L802.3,449.8 L804.2,448.8 L805.9,447.7 L807.6,446.5 L809.3,445.4 L811.1,444.4 L812.8,443.2 L814.7,442.4 L816.4,441.4 L818.0,440.2 L819.7,439.2 L821.4,438.2 L822.9,437.0 L824.6,436.1 L826.5,435.1 L828.1,433.7 L829.9,432.6 L831.7,431.5 L833.5,430.3 L835.4,429.3 L837.3,428.2 L839.0,426.9 L840.8,425.7 L842.6,424.6 L844.3,423.3 L846.2,422.3 L847.9,421.1 L849.4,419.8 L851.2,418.7 L852.8,417.5 L854.5,416.4 L856.3,415.6 L857.9,414.6 L859.4,413.4 L860.9,412.4 L862.4,411.5 L863.8,410.5 L865.1,409.5 L866.6,408.8 L867.9,408.0 L869.1,407.1 L871.4,405.5 L873.6,404.3 L875.5,403.2 L877.3,402.5 L879.0,401.9 L880.3,400.8 L881.6,400.0 L883.0,399.4 L884.5,398.8 L885.9,397.9 L887.6,397.0 L889.5,396.2 L891.3,394.7 L892.7,393.8 L894.2,392.9 L895.8,392.0 L897.3,391.0 L899.1,390.2 L900.8,389.2 L902.3,388.0 L904.0,386.8 L905.8,385.8 L907.4,384.5 L909.3,383.5 L911.0,382.4 L912.6,381.0 L914.4,379.9 L916.2,378.9 L918.0,377.7 L919.9,377.0 L921.7,376.1 L923.2,374.7 L925.0,373.8 L926.7,372.7 L928.4,371.7 L930.2,370.7 L932.0,369.9 L933.6,368.6 L935.4,367.7 L937.1,366.9 L938.9,366.0 L940.7,365.2 L942.7,364.8 L944.3,363.6 L946.0,362.5 L947.8,361.7 L949.5,360.6 L951.2,359.6 L953.1,358.9 L954.8,357.7 L956.4,356.5 L958.2,355.6 L959.9,354.8 L961.6,353.8 L963.4,353.1 L965.1,352.1 L966.7,350.9 L968.3,349.8 L970.0,348.8 L971.7,347.8 L973.3,346.8 L975.1,345.9 L976.6,344.6 L978.2,343.3 L980.0,342.5 L981.6,341.4 L983.4,340.4 L985.2,339.5 L986.9,338.5 L988.3,337.0 L990.0,335.9 L991.8,334.8 L993.2,333.5 L995.1,332.7 L996.5,331.3 L997.9,329.8 L999.6,328.7 L1001.3,327.6 L1002.9,326.2 L1004.7,325.2 L1006.4,324.0 L1007.8,322.5 L1009.4,321.2 L1011.1,320.1 L1012.6,318.6 L1014.3,317.5 L1015.9,316.3 L1017.2,314.7 L1018.8,313.5 L1020.5,312.4 L1022.0,311.2 L1023.8,310.3 L1025.4,309.3 L1027.0,307.9 L1028.6,306.5 L1030.4,305.4 L1032.0,304.0 L1033.7,303.0 L1035.6,301.9 L1037.0,300.4 L1038.6,299.1 L1040.4,298.1 L1042.1,297.0 L1043.9,296.1 L1045.6,295.1 L1047.1,293.9 L1048.5,292.6 L1050.1,291.5 L1051.7,290.5 L1053.0,289.2 L1054.6,288.4 L1056.1,287.4 L1057.7,285.8 L1059.5,284.4 L1061.2,283.1 L1062.9,281.9 L1064.9,281.0 L1066.4,279.8 L1067.7,278.2 L1069.1,276.9 L1070.7,275.8 L1072.1,274.5 L1073.6,273.3 L1075.2,272.1 L1076.7,270.7 L1078.1,269.3 L1079.7,268.2 L1081.2,266.9 L1082.8,265.9 L1084.4,264.8 L1085.9,263.6 L1087.2,262.1 L1088.6,260.8 L1090.3,259.7 L1091.7,258.4 L1093.2,257.2 L1094.8,256.0 L1096.0,254.4 L1097.4,253.0 L1099.0,251.7 L1100.5,250.4 L1102.1,249.2 L1103.7,248.1 L1105.0,246.5 L1106.4,244.9 L1107.9,243.5 L1109.3,241.8 L1110.8,240.4 L1112.4,239.0 L1113.6,237.2 L1115.0,235.7 L1116.6,234.4 L1118.0,233.1 L1119.4,231.8 L1120.8,230.6 L1122.0,229.4 L1122.8,227.9 L1124.8,226.2 L1126.5,224.6 L1127.9,223.0 L1129.5,221.8 L1130.6,220.3 L1131.9,219.0 L1133.3,217.7 L1134.8,216.5 L1136.2,214.9 L1137.5,213.6 L1138.9,212.3 L1139.8,210.6 L1141.0,209.1 L1142.2,207.6 L1143.4,206.0 L1144.7,204.5 L1146.0,203.0 L1147.2,201.3 L1148.1,199.5 L1149.6,198.1 L1150.7,196.6 L1151.9,195.1 L1153.2,193.7 L1154.4,192.2 L1155.2,190.4 L1156.4,188.8 L1157.6,187.3 L1158.6,185.6 L1159.9,184.1 L1161.1,182.6 L1161.8,180.7 L1162.6,179.0 L1164.1,177.4 L1165.3,175.6 L1166.5,173.9 L1167.7,172.1 L1168.4,170.0 L1169.3,168.1 L1170.6,166.3 L1171.4,164.4 L1172.3,162.6 L1173.3,160.9 L1173.9,159.0 L1174.7,157.1 L1175.8,155.4 L1176.5,153.5 L1177.3,151.7 L1178.3,150.1 L1178.7,148.2 L1179.0,146.4 L1179.5,144.6 L1180.3,143.0 L1180.7,141.3 L1181.6,139.2 L1182.2,136.9 L1182.4,134.5 L1183.4,132.4 L1184.1,130.3 L1184.5,128.5 L1185.2,127.0 L1185.8,125.8" fill="none" stroke="#006ae1" stroke-width="4.7" stroke-linecap="round" stroke-linejoin="round"/>
<path d="M418.3,485.0 L419.4,485.1 L420.6,485.0 L422.0,485.0 L423.6,485.1 L425.3,485.1 L427.1,485.1 L429.0,485.1 L431.0,485.1 L433.2,485.2 L435.4,485.3 L437.7,485.3 L440.0,485.3 L442.5,485.3 L444.9,485.4 L447.5,485.3 L450.0,485.4 L451.7,485.4 L453.4,485.5 L455.1,485.5 L457.0,485.5 L458.8,485.4 L460.7,485.4 L462.7,485.4 L464.6,485.5 L466.7,485.5 L468.7,485.4 L470.7,485.5 L472.8,485.5 L474.9,485.5 L477.0,485.5 L479.1,485.5 L481.2,485.4 L483.4,485.5 L485.5,485.5 L487.6,485.5 L489.7,485.5 L491.8,485.6 L493.9,485.6 L495.9,485.6 L498.0,485.6 L500.0,485.6 L502.0,485.6 L504.0,485.7 L506.0,485.6 L508.1,485.7 L510.1,485.7 L512.1,485.8 L514.2,485.8 L516.2,485.8 L518.2,485.8 L520.3,485.9 L522.3,485.9 L524.3,485.9 L526.4,485.9 L528.4,486.0 L530.4,486.1 L532.4,486.1 L534.4,486.1 L536.4,486.1 L538.4,486.2 L540.3,486.2 L542.3,486.3 L544.3,486.2 L546.2,486.3 L548.1,486.4 L550.0,486.5 L552.1,486.5 L554.3,486.5 L556.4,486.5 L558.4,486.6 L560.5,486.5 L562.6,486.6 L564.6,486.5 L566.6,486.6 L568.6,486.7 L570.6,486.7 L572.6,486.7 L574.6,486.7 L576.6,486.7 L578.6,486.8 L580.6,486.9 L582.6,486.9 L584.6,487.0 L586.6,487.0 L588.6,487.2 L590.6,487.2 L592.6,487.4 L594.6,487.5 L596.6,487.7 L598.7,487.8 L600.8,487.9 L602.9,488.1 L604.9,488.4 L607.0,488.5 L609.1,488.8 L611.3,488.9 L613.4,489.2 L615.5,489.3 L617.5,489.7 L619.6,489.8 L621.7,490.1 L623.7,490.3 L625.7,490.6 L627.8,490.8 L629.7,491.1 L631.7,491.3 L633.6,491.6 L635.5,491.9 L637.3,492.2 L639.1,492.4 L641.4,492.7 L643.6,493.1 L645.8,493.5 L648.0,493.8 L650.1,494.2 L652.2,494.6 L654.2,495.0 L656.2,495.4 L658.2,495.7 L660.2,496.1 L662.0,496.6 L663.9,497.0 L665.7,497.4 L667.5,497.8 L669.2,498.2 L670.9,498.7 L672.6,499.1 L674.8,499.7 L677.0,500.2 L679.0,500.9 L680.9,501.4 L682.7,502.1 L684.4,502.7 L686.2,503.3 L687.9,504.0 L689.6,504.6 L691.3,505.4 L693.1,506.0 L694.9,506.9 L696.7,507.7 L698.4,508.6 L700.2,509.5 L702.1,510.4 L703.9,511.4 L705.7,512.4 L707.5,513.4 L709.3,514.4 L711.0,515.4 L712.7,516.3 L714.2,517.3 L715.7,518.2 L717.1,519.2 L719.1,520.4 L720.8,521.6 L722.4,522.8 L723.8,524.0 L725.1,525.0 L726.4,526.1 L727.7,527.3 L729.0,528.5 L730.5,530.0 L732.1,531.4 L733.6,532.9 L735.2,534.4 L736.6,535.9 L738.0,537.4 L739.4,538.8 L741.0,540.4 L742.4,542.0 L743.9,543.6 L745.2,545.2 L746.7,546.8 L748.0,548.5 L749.2,550.0 L750.3,551.6 L751.5,553.1 L752.7,554.7 L753.8,556.3 L754.9,557.9 L756.0,559.5 L757.1,561.1 L758.1,562.7 L759.1,564.4 L760.0,566.1 L761.1,567.7 L762.0,569.3 L763.1,571.0 L763.9,572.6 L764.7,574.0 L765.5,575.4 L766.3,576.9 L767.3,578.6 L768.2,580.6 L769.5,583.0 L770.1,584.4 L771.0,585.9 L771.7,587.6 L772.6,589.3 L773.4,591.1 L774.3,593.0 L775.2,594.9 L776.2,596.8 L777.1,598.8 L778.0,600.8 L779.0,602.7 L780.0,604.6 L780.9,606.5 L781.8,608.3 L782.7,610.1 L783.6,611.9 L784.6,613.8 L785.5,615.6 L786.4,617.5 L787.4,619.3 L788.4,621.1 L789.4,622.9 L790.3,624.6 L791.3,626.4 L792.2,628.1 L793.2,629.7 L794.2,631.3 L795.1,632.8 L796.3,634.6 L797.5,636.4 L798.8,638.1 L800.0,639.7 L801.2,641.3 L802.4,642.8 L803.6,644.2 L804.8,645.6 L806.1,647.0 L807.3,648.3 L808.5,649.5 L810.2,651.1 L811.8,652.6 L813.4,654.0 L814.9,655.3 L816.5,656.5 L818.2,657.6 L820.0,658.6 L821.9,659.7 L823.7,660.4 L825.6,661.1 L827.6,661.6 L829.6,662.1 L831.7,662.6 L833.7,663.1 L835.8,663.3 L837.8,663.7 L839.7,664.0 L841.6,664.3 L843.2,664.4 L844.7,664.5 L846.2,664.5 L847.9,664.5 L850.0,664.6 L852.6,664.6 L856.0,664.7 L857.5,664.8 L859.1,664.9 L860.8,664.9 L862.6,665.1 L864.5,665.0 L866.6,665.1 L868.7,665.2 L870.8,665.4 L873.0,665.4 L875.3,665.5 L877.6,665.6 L879.8,665.8 L882.1,665.8 L884.4,665.9 L886.6,665.9 L888.9,666.1 L891.0,666.2 L893.1,666.3 L895.1,666.3 L897.1,666.4 L898.9,666.5 L900.6,666.6 L903.2,666.5 L905.7,666.6 L908.2,666.7 L910.7,666.8 L913.0,666.8 L915.3,666.8 L917.5,666.9 L919.5,666.9 L921.5,666.9 L923.3,666.9 L924.9,666.9 L926.4,667.0 L927.7,667.0 L928.8,667.0" fill="none" stroke="#04a662" stroke-width="4.5" stroke-linecap="round" stroke-linejoin="round"/>
<path d="M418.3,484.8 L419.4,484.9 L420.6,485.0 L422.0,484.9 L423.6,485.0 L425.3,485.1 L427.1,484.9 L429.0,484.8 L431.0,484.8 L433.2,484.7 L435.4,484.9 L437.7,484.7 L440.0,484.7 L442.5,484.5 L444.9,484.8 L447.5,484.6 L450.0,484.7 L451.7,484.5 L453.4,484.4 L455.1,484.6 L457.0,484.6 L458.8,484.5 L460.7,484.5 L462.7,484.4 L464.6,484.6 L466.7,484.7 L468.7,484.6 L470.7,484.6 L472.8,484.3 L474.9,484.6 L477.0,484.5 L479.1,484.5 L481.2,484.5 L483.4,484.4 L485.5,484.6 L487.6,484.6 L489.7,484.6 L491.8,484.5 L493.9,484.4 L495.9,484.4 L498.0,484.3 L500.0,484.4 L502.0,484.3 L503.9,484.3 L505.9,484.4 L507.8,484.3 L509.7,484.4 L511.6,484.3 L513.5,484.2 L515.4,484.2 L517.3,484.0 L519.2,484.2 L521.1,484.2 L523.0,484.0 L524.9,484.1 L526.8,484.1 L528.8,484.1 L530.8,484.2 L532.8,483.9 L534.8,483.9 L536.8,483.6 L538.9,483.6 L541.0,483.7 L543.2,483.5 L545.4,483.5 L547.7,483.3 L550.0,483.3 L551.7,483.2 L553.5,483.1 L555.4,482.9 L557.2,482.6 L559.1,482.6 L561.1,482.5 L563.1,482.3 L565.1,482.3 L567.1,482.0 L569.1,481.9 L571.2,481.9 L573.3,481.8 L575.4,481.6 L577.5,481.2 L579.6,481.1 L581.7,480.9 L583.8,480.9 L585.9,480.7 L588.0,480.4 L590.1,480.3 L592.2,480.0 L594.3,480.2 L596.3,479.8 L598.3,479.5 L600.3,479.3 L602.3,479.2 L604.3,479.1 L606.2,479.0 L608.1,478.6 L610.0,478.6 L611.7,478.3 L613.5,478.3 L615.3,478.2 L616.9,478.0 L619.4,477.7 L621.8,477.2 L624.1,477.2 L626.4,476.9 L628.5,476.7 L630.6,476.5 L632.7,476.2 L634.7,476.2 L636.7,475.9 L638.6,475.6 L640.5,475.3 L642.4,474.9 L644.3,474.8 L646.1,474.6 L648.0,474.3 L649.9,474.2 L651.7,473.7 L653.6,473.5 L655.5,473.4 L657.4,473.0 L659.4,472.8 L661.4,472.2 L663.3,471.9 L665.3,471.6 L667.2,471.2 L669.2,471.1 L671.1,470.6 L673.0,470.3 L675.0,469.9 L676.9,469.6 L678.9,469.4 L680.8,468.8 L682.7,468.4 L684.6,468.0 L686.6,467.5 L688.6,467.4 L690.5,466.8 L692.4,466.4 L694.4,466.1 L696.3,465.6 L698.3,465.3 L700.2,464.8 L702.1,464.3 L704.1,463.8 L706.0,463.2 L707.9,462.9 L709.9,462.5 L711.9,462.0 L714.0,461.5 L715.9,460.9 L718.0,460.7 L720.1,460.1 L722.1,459.6 L724.2,459.0 L726.1,458.2 L728.2,458.0 L730.3,457.4 L732.3,457.0 L734.2,456.3 L736.2,455.8 L738.2,455.3 L740.1,454.7 L742.0,454.3 L743.7,453.5 L745.5,452.9 L747.3,452.3 L748.9,451.7 L750.6,451.2 L752.8,450.4 L754.9,449.4 L756.9,448.6 L759.0,447.6 L761.0,446.8 L762.8,445.6 L764.7,444.5 L766.4,443.4 L768.2,442.4 L770.0,441.6 L771.6,440.6 L773.2,439.7 L774.7,438.9 L776.0,437.9 L777.5,437.4 L778.9,436.9 L780.0,436.1 L782.8,435.1 L784.7,434.2 L786.3,434.3 L787.6,434.4 L789.1,434.3 L791.1,433.8 L792.7,433.5 L794.2,432.7 L796.0,432.0 L797.9,431.7 L799.8,431.1 L801.7,430.3 L803.5,429.3 L805.3,428.4 L807.2,427.8 L808.9,426.9 L810.9,426.4 L812.4,425.1 L814.1,424.2 L815.8,423.3 L817.3,422.1 L819.2,421.2 L820.8,419.9 L822.4,418.2 L824.5,417.0 L825.8,415.8 L827.6,415.4 L829.0,414.1 L830.5,412.8 L832.3,411.9 L833.9,410.6 L835.9,409.8 L837.3,408.3 L839.0,407.1 L840.5,405.7 L842.0,404.3 L844.0,403.8 L845.4,402.5 L846.9,401.4 L848.9,400.4 L850.5,398.9 L852.6,398.1 L854.1,396.4 L855.8,395.2 L857.3,393.8 L858.7,392.3 L860.6,391.8 L862.2,391.1 L863.4,390.1 L864.8,389.6 L866.8,388.0 L868.5,388.2 L869.9,388.9 L871.5,388.2 L873.8,387.4 L875.0,386.3 L875.8,384.4 L877.6,383.6 L879.2,382.2 L881.3,381.2 L883.1,379.8 L884.4,377.8 L886.4,376.6 L888.2,375.3 L890.1,374.2 L891.1,372.1 L893.1,371.2 L894.8,369.7 L896.8,369.0 L899.0,368.6 L900.6,367.2 L902.7,366.7 L904.2,365.2 L906.3,364.9 L907.9,363.9 L909.2,362.4 L911.1,361.1 L912.5,359.3 L914.7,358.6 L916.4,357.3 L917.9,355.9 L919.7,354.9 L920.9,353.3 L922.8,353.0 L924.6,351.9 L926.5,351.7 L928.4,351.0 L930.3,350.1 L932.3,350.4 L934.2,350.0 L936.0,349.1 L937.8,348.6 L938.5,346.6 L940.0,345.3 L941.4,343.8 L942.6,342.0 L944.2,340.6 L944.4,338.4 L945.8,337.0 L946.8,335.6 L948.4,333.8 L950.0,332.2 L950.6,330.2 L952.0,328.8 L952.8,327.2 L953.7,325.6 L955.9,324.6 L957.0,322.7 L958.7,321.6 L959.9,319.7 L961.3,318.5 L963.0,317.1 L963.7,315.1 L964.8,313.2 L965.7,311.3 L967.5,310.5 L969.2,309.5 L970.4,307.8 L972.2,307.3 L973.8,305.9 L975.9,305.4 L977.9,305.4 L979.4,304.2 L981.4,304.0 L982.6,302.0 L984.3,301.1 L986.1,300.3 L987.6,299.3 L989.0,297.8 L989.6,295.8 L989.5,293.5 L991.8,292.5 L992.6,290.7 L994.6,289.4 L995.1,287.5 L995.0,285.2 L996.9,283.9 L997.6,282.0 L998.8,280.3 L999.7,278.5 L999.8,276.0 L1001.4,275.0 L1002.6,273.5 L1004.9,273.3 L1006.7,272.5 L1007.5,270.3 L1009.3,269.5 L1010.8,268.3 L1011.8,266.7 L1014.1,265.9 L1014.2,263.3 L1015.3,261.6 L1016.2,259.8 L1017.6,258.3 L1019.8,257.3 L1020.5,255.1 L1021.6,253.6 L1022.3,251.7 L1023.4,250.0 L1025.5,249.1 L1025.6,246.6 L1027.0,245.1 L1026.9,242.6 L1028.6,241.2 L1030.7,240.2 L1031.3,238.2 L1033.1,236.7 L1033.0,234.2 L1034.7,232.7 L1035.6,230.9 L1036.4,229.1 L1037.4,227.5 L1037.2,225.3 L1038.6,223.5 L1040.5,222.6 L1041.4,221.2 L1043.8,221.0 L1044.5,219.3 L1044.3,216.8 L1046.4,215.7 L1046.6,213.3 L1048.2,211.5 L1048.0,208.9 L1049.2,207.0 L1049.9,204.9 L1051.5,203.6 L1054.1,203.1 L1054.4,201.0 L1055.7,199.9 L1057.0,198.7 L1058.0,196.9 L1059.9,196.0 L1060.7,194.1 L1060.4,191.6 L1061.6,189.8 L1062.0,187.7 L1064.8,186.8 L1065.7,185.2 L1066.0,182.8 L1067.2,181.1 L1066.8,178.9 L1068.2,177.2 L1067.9,174.6 L1068.5,172.9 L1068.9,171.0 L1067.7,168.6 L1070.3,166.8 L1070.4,164.6 L1071.8,162.8 L1071.0,160.7 L1071.0,158.9 L1072.5,157.1 L1073.1,155.3 L1074.1,153.9 L1075.2,152.7 L1075.3,150.3 L1077.6,149.9 L1079.8,149.1 L1082.4,149.3 L1084.5,148.8 L1084.8,146.8 L1085.0,145.4 L1083.9,143.8 L1082.1,142.4 L1082.6,140.1 L1081.7,138.7 L1081.5,136.7 L1082.1,134.8 L1082.9,132.8 L1085.1,131.5 L1085.9,129.7 L1085.8,127.8 L1087.7,126.4 L1088.0,124.2 L1089.9,123.4 L1091.0,121.9 L1091.0,119.8 L1091.9,118.1 L1091.3,116.0 L1093.0,114.1 L1094.0,112.2 L1094.4,110.3 L1096.1,108.9 L1094.9,106.0 L1096.6,104.5 L1097.8,102.9 L1097.9,101.0 L1099.7,99.5 L1098.5,97.1 L1099.3,95.8 L1100.5,94.5 L1099.9,92.6 L1099.7,90.2 L1098.5,89.1" fill="none" stroke="#04a662" stroke-width="4.5" stroke-linecap="round" stroke-linejoin="round"/>
<path d="M420.0,518.0 L421.1,518.0 L422.2,518.0 L423.5,518.0 L424.9,518.1 L426.4,518.1 L428.0,518.0 L429.6,518.1 L431.4,518.1 L433.2,518.2 L435.1,518.1 L437.0,518.1 L439.1,518.1 L441.1,518.1 L443.3,518.2 L445.5,518.2 L447.7,518.2 L449.9,518.2 L452.2,518.2 L454.5,518.3 L456.9,518.2 L459.2,518.3 L461.6,518.3 L464.0,518.3 L466.3,518.4 L468.7,518.4 L471.0,518.4 L473.4,518.4 L475.7,518.5 L478.0,518.5 L480.2,518.5 L482.5,518.5 L484.6,518.5 L486.8,518.6 L488.9,518.6 L490.9,518.6 L492.9,518.6 L494.8,518.7 L496.6,518.7 L498.3,518.8 L500.0,518.9 L502.6,518.8 L505.0,518.9 L507.4,519.0 L509.8,519.1 L512.0,519.2 L514.2,519.1 L516.3,519.3 L518.4,519.3 L520.4,519.4 L522.4,519.5 L524.4,519.5 L526.3,519.5 L528.1,519.7 L530.0,519.8 L531.8,519.9 L533.6,520.0 L535.4,520.1 L537.2,520.1 L539.0,520.3 L540.8,520.3 L542.6,520.5 L544.4,520.6 L546.3,520.7 L548.1,520.7 L550.0,520.9 L552.1,521.1 L554.3,521.2 L556.4,521.3 L558.4,521.4 L560.5,521.5 L562.6,521.8 L564.6,521.9 L566.6,522.0 L568.6,522.1 L570.6,522.2 L572.6,522.5 L574.6,522.6 L576.6,522.7 L578.6,523.0 L580.6,523.1 L582.6,523.3 L584.6,523.6 L586.6,523.8 L588.6,523.9 L590.6,524.2 L592.6,524.4 L594.6,524.7 L596.5,525.0 L598.5,525.2 L600.5,525.5 L602.5,525.8 L604.5,526.0 L606.5,526.4 L608.5,526.7 L610.5,526.9 L612.5,527.3 L614.5,527.6 L616.5,528.0 L618.5,528.4 L620.5,528.6 L622.5,529.0 L624.4,529.4 L626.4,529.7 L628.3,530.1 L630.1,530.6 L632.0,530.9 L633.8,531.3 L635.6,531.7 L637.4,532.1 L639.1,532.5 L641.2,533.1 L643.4,533.5 L645.5,534.1 L647.5,534.8 L649.5,535.3 L651.5,535.9 L653.5,536.5 L655.4,537.1 L657.2,537.7 L659.1,538.4 L660.9,539.1 L662.7,539.7 L664.4,540.3 L666.1,541.0 L667.8,541.7 L669.4,542.3 L671.0,543.0 L672.6,543.7 L674.7,544.6 L676.7,545.6 L678.6,546.6 L680.5,547.5 L682.3,548.5 L684.0,549.4 L685.7,550.4 L687.3,551.5 L688.9,552.5 L690.5,553.5 L691.9,554.7 L693.4,555.8 L694.9,557.0 L696.4,558.3 L697.9,559.7 L699.4,561.0 L700.7,562.4 L702.1,563.9 L703.3,565.4 L704.4,567.0 L705.7,568.5 L706.9,570.0 L708.1,571.6 L709.3,573.2 L710.5,574.9 L711.6,576.5 L712.7,578.0 L713.7,579.6 L714.8,581.3 L715.8,582.9 L716.7,584.6 L717.8,586.3 L718.8,588.0 L719.8,589.8 L720.8,591.6 L721.8,593.4 L722.7,595.3 L723.8,597.1 L724.7,598.7 L725.6,600.5 L726.5,602.2 L727.4,604.0 L728.2,605.8 L729.2,607.6 L730.1,609.4 L730.9,611.3 L731.8,613.1 L732.7,615.0 L733.6,616.8 L734.6,618.6 L735.4,620.4 L736.3,622.2 L737.2,623.9 L738.1,625.8 L739.1,627.6 L740.1,629.4 L741.0,631.3 L742.0,633.1 L742.9,634.9 L743.9,636.7 L744.9,638.5 L745.8,640.3 L746.7,642.0 L747.7,643.6 L748.7,645.3 L749.7,646.8 L750.7,648.4 L751.8,650.3 L753.0,652.1 L754.1,653.9 L755.2,655.6 L756.5,657.2 L757.6,658.9 L758.8,660.5 L760.0,661.9 L761.3,663.4 L762.6,664.8 L764.0,666.2 L765.4,667.6 L767.0,668.9 L768.6,670.1 L770.2,671.3 L771.9,672.4 L773.6,673.5 L775.2,674.6 L776.9,675.7 L778.6,676.6 L780.2,677.6 L781.8,678.5 L783.6,679.6 L785.3,680.6 L786.9,681.5 L788.6,682.3 L790.2,683.1 L791.9,683.8 L793.7,684.6 L795.7,685.3 L798.0,685.9 L799.6,686.3 L801.2,686.7 L802.9,687.0 L804.6,687.4 L806.4,687.7 L808.3,687.9 L810.2,688.2 L812.1,688.5 L814.1,688.7 L816.2,689.0 L818.3,689.2 L820.4,689.3 L822.6,689.5 L824.8,689.7 L826.6,689.8 L828.6,690.0 L830.6,690.0 L832.8,690.1 L835.1,690.2 L837.4,690.2 L839.7,690.3 L842.0,690.2 L844.3,690.3 L846.6,690.4 L848.8,690.3 L850.9,690.4 L852.9,690.3 L854.8,690.3 L856.5,690.3 L858.1,690.4 L859.4,690.4 L860.5,690.4" fill="none" stroke="#c27ae8" stroke-width="4.7" stroke-linecap="round" stroke-linejoin="round"/>
<path d="M420.0,518.1 L421.1,517.8 L422.2,517.7 L423.5,517.7 L424.9,517.8 L426.4,517.9 L428.0,517.8 L429.6,518.2 L431.4,518.4 L433.2,517.9 L435.1,517.9 L437.0,517.9 L439.1,517.5 L441.1,518.0 L443.3,517.8 L445.5,517.8 L447.7,517.7 L449.9,517.3 L452.2,517.8 L454.5,517.9 L456.9,518.0 L459.2,517.9 L461.6,517.5 L464.0,517.6 L466.3,517.6 L468.7,517.7 L471.0,517.6 L473.4,517.4 L475.7,517.5 L478.0,517.5 L480.2,518.0 L482.5,517.5 L484.6,517.4 L486.8,517.4 L488.9,517.0 L490.9,517.4 L492.9,517.4 L494.8,517.2 L496.6,517.4 L498.3,517.1 L500.0,517.0 L502.6,517.4 L505.0,517.2 L507.4,517.2 L509.7,516.8 L512.0,516.5 L514.2,516.7 L516.3,516.5 L518.4,516.8 L520.4,516.6 L522.4,516.3 L524.4,516.6 L526.3,516.2 L528.1,516.2 L530.0,516.4 L531.8,516.1 L533.6,515.8 L535.4,515.9 L537.2,515.4 L539.0,515.4 L540.8,515.7 L542.6,515.5 L544.4,515.3 L546.3,515.3 L548.1,515.1 L550.0,515.0 L552.2,515.2 L554.3,514.9 L556.4,515.0 L558.4,514.9 L560.5,514.2 L562.6,514.4 L564.6,514.3 L566.6,514.3 L568.7,514.6 L570.6,514.1 L572.6,514.0 L574.6,513.9 L576.6,513.7 L578.6,513.9 L580.6,513.8 L582.6,513.2 L584.6,513.3 L586.5,512.9 L588.5,512.8 L590.6,513.0 L592.6,512.7 L594.6,512.6 L596.6,512.6 L598.6,511.9 L600.7,512.1 L602.7,511.8 L604.7,511.6 L606.8,511.4 L608.7,510.8 L610.8,510.6 L612.8,510.6 L614.8,510.3 L616.9,510.3 L618.9,510.2 L620.9,509.7 L622.9,509.5 L624.9,509.1 L626.9,508.7 L629.0,508.7 L631.0,508.2 L633.0,507.9 L635.0,507.3 L637.0,506.8 L639.1,507.0 L641.1,506.7 L643.0,506.3 L645.0,506.3 L646.8,505.3 L648.8,505.1 L650.8,504.9 L652.6,504.2 L654.6,504.0 L656.5,503.6 L658.4,502.8 L660.4,502.6 L662.3,502.2 L664.3,501.8 L666.3,501.8 L668.3,501.3 L670.1,500.6 L672.1,500.2 L674.0,499.3 L675.9,498.9 L677.9,498.6 L679.8,498.0 L681.8,497.4 L683.7,496.8 L685.5,496.1 L687.5,496.0 L689.3,495.3 L691.2,494.7 L693.1,494.4 L694.8,493.4 L696.6,492.7 L698.6,492.2 L700.4,491.5 L702.3,491.0 L704.2,490.4 L705.9,489.3 L707.8,488.8 L709.7,488.2 L711.5,487.5 L713.6,487.2 L715.4,486.4 L717.2,485.5 L719.0,484.9 L720.8,483.9 L722.7,483.4 L724.6,482.9 L726.4,482.0 L728.3,481.3 L730.2,480.6 L732.0,479.7 L733.9,479.3 L735.9,478.8 L737.7,477.9 L739.7,477.4 L741.4,476.3 L743.3,475.6 L745.2,474.9 L747.0,474.1 L748.9,473.5 L750.9,472.9 L752.7,471.9 L754.7,471.5 L756.5,470.6 L758.3,469.8 L760.3,469.4 L762.1,468.4 L763.8,467.4 L765.7,466.7 L767.4,465.6 L769.3,465.0 L771.2,464.3 L772.8,463.3 L774.8,462.6 L776.5,461.4 L778.4,460.5 L780.4,459.9 L782.2,458.8 L784.0,457.8 L785.7,456.6 L787.4,455.3 L789.3,454.4 L791.1,453.4 L792.9,452.4 L794.9,451.8 L796.5,450.4 L798.2,449.3 L800.0,448.4 L801.7,447.3 L803.6,446.5 L805.3,445.6 L806.8,444.2 L808.5,443.3 L810.0,442.1 L811.7,441.2 L813.4,440.5 L815.4,439.5 L817.3,438.5 L819.2,437.5 L820.9,436.1 L822.8,435.3 L824.5,434.2 L826.2,433.1 L828.1,432.3 L829.6,431.0 L831.3,430.0 L833.1,429.2 L834.8,428.1 L836.6,427.3 L838.4,426.6 L840.0,425.4 L841.7,424.5 L843.4,423.4 L845.1,422.4 L847.0,421.8 L848.7,420.7 L850.3,419.6 L852.1,418.8 L853.8,417.7 L855.6,417.0 L857.5,416.5 L859.3,415.6 L861.0,414.8 L862.8,414.1 L864.4,412.9 L866.2,412.1 L868.0,411.4 L869.7,410.4 L871.6,409.7 L873.2,408.7 L874.8,407.5 L876.8,406.9 L878.5,405.8 L880.3,405.0 L882.2,404.3 L883.7,402.9 L885.4,401.8 L887.1,400.8 L888.7,399.5 L890.6,398.6 L892.3,397.4 L893.9,396.1 L895.6,394.9 L897.3,393.6 L899.1,392.6 L901.0,391.7 L902.5,390.3 L904.3,389.4 L905.8,388.0 L907.3,386.7 L909.0,385.8 L910.6,384.6 L912.1,383.5 L913.8,382.8 L915.4,381.1 L917.3,379.9 L919.2,379.0 L920.9,377.6 L922.9,376.7 L924.4,375.4 L926.1,374.1 L927.7,373.0 L929.3,371.7 L931.1,370.9 L932.8,370.0 L934.2,368.6 L935.8,367.7 L937.5,366.8 L938.9,365.6 L940.6,364.8 L942.5,363.8 L944.3,362.7 L946.2,361.7 L947.7,360.3 L949.5,359.3 L951.4,358.7 L953.0,357.6 L954.8,356.9 L956.6,356.1 L957.8,354.5 L959.4,353.4 L961.2,352.6 L962.8,351.4 L965.0,350.8 L965.9,348.9 L967.0,347.1 L968.5,345.7 L969.1,343.6 L970.6,342.2 L972.5,341.0 L973.5,339.2 L975.0,337.7 L976.1,335.9 L977.4,334.1 L979.6,333.3 L980.8,331.5 L982.1,330.2 L983.6,328.7 L984.2,326.3 L986.3,325.6 L988.0,324.1 L990.0,323.2 L991.9,322.1 L993.0,320.1 L994.7,319.0 L996.4,317.9 L997.9,316.7 L1000.0,316.3 L1001.1,314.9 L1001.5,312.9 L1003.0,312.5 L1004.7,309.5 L1006.7,308.7 L1008.5,308.6 L1009.8,307.7 L1011.7,306.6 L1013.5,306.2 L1014.4,304.2 L1016.0,302.8 L1018.7,303.4 L1019.8,301.2 L1021.9,300.4 L1023.3,298.7 L1023.7,296.3 L1024.9,295.1 L1026.7,294.1 L1027.8,292.4 L1030.0,291.2 L1029.7,288.8 L1030.9,287.1 L1032.1,285.4 L1032.0,283.0 L1034.8,282.4 L1035.7,280.7 L1035.7,278.2 L1037.2,276.9 L1038.0,274.9 L1039.4,273.5 L1042.1,273.3 L1043.0,271.5 L1044.5,270.3 L1045.7,268.8 L1045.9,266.3 L1047.0,264.4 L1048.4,262.8 L1048.4,260.4 L1050.2,259.0 L1050.0,256.5 L1050.5,254.3 L1052.5,253.4 L1053.6,251.8 L1055.2,250.6 L1057.1,249.7 L1057.1,247.2 L1058.2,245.7 L1059.3,244.2 L1059.9,242.2 L1061.7,241.3 L1063.3,240.1 L1063.6,238.0 L1064.9,236.7 L1065.5,234.8 L1066.6,233.3 L1068.8,232.4 L1070.3,231.0 L1070.9,229.0 L1072.4,227.4 L1071.7,224.8 L1072.3,222.7 L1073.9,221.0 L1073.8,218.7 L1075.9,217.1 L1075.2,214.6 L1075.6,212.7 L1077.3,211.2 L1077.6,209.2 L1079.6,207.7 L1080.8,206.0 L1080.2,203.7 L1080.3,201.7 L1081.0,199.9 L1080.8,197.8 L1083.3,196.6 L1083.5,194.4 L1083.8,192.3 L1085.2,190.7 L1085.3,188.6 L1086.5,187.0 L1088.8,185.9 L1089.1,184.0 L1089.8,181.9 L1089.8,179.7 L1089.1,177.4 L1090.4,175.7 L1090.6,173.7 L1090.8,171.9 L1092.4,170.5 L1092.2,168.3 L1091.8,166.5 L1093.2,165.1 L1093.8,163.5 L1093.9,161.4 L1096.1,160.5 L1096.7,158.8 L1096.3,156.3 L1097.5,154.7 L1097.8,152.4 L1099.3,150.7 L1101.1,149.4 L1101.3,147.3 L1102.8,146.0 L1104.0,144.3 L1104.6,142.3 L1107.1,141.7 L1108.6,140.5 L1108.5,138.2 L1110.6,137.5 L1110.5,134.8 L1109.8,132.3 L1112.2,131.3 L1111.8,129.4 L1112.3,127.9 L1113.5,125.6 L1111.6,123.9 L1111.2,121.9 L1112.4,120.4 L1112.5,118.4 L1114.9,117.8 L1117.0,116.8 L1117.8,114.1 L1119.5,114.1" fill="none" stroke="#c27ae8" stroke-width="4.7" stroke-linecap="round" stroke-linejoin="round"/>
<path d="M443.3,533.3 L444.4,533.3 L445.6,533.3 L447.0,533.3 L448.5,533.3 L450.1,533.3 L451.8,533.3 L453.6,533.3 L455.6,533.4 L457.6,533.4 L459.6,533.4 L461.8,533.4 L464.0,533.4 L466.2,533.4 L468.5,533.4 L470.8,533.4 L473.2,533.4 L475.6,533.4 L477.9,533.4 L480.3,533.6 L482.6,533.5 L485.0,533.5 L487.3,533.5 L489.5,533.6 L491.8,533.5 L493.9,533.5 L496.0,533.6 L498.1,533.6 L500.0,533.6 L502.1,533.6 L504.2,533.6 L506.2,533.7 L508.2,533.6 L510.2,533.6 L512.1,533.7 L514.0,533.6 L515.9,533.7 L517.8,533.6 L519.7,533.6 L521.5,533.7 L523.4,533.7 L525.3,533.6 L527.2,533.7 L529.1,533.7 L531.0,533.8 L533.0,533.8 L535.0,533.8 L537.0,533.9 L539.0,533.9 L541.1,533.9 L543.3,534.0 L545.4,534.0 L547.7,534.2 L550.0,534.3 L551.7,534.4 L553.5,534.5 L555.4,534.6 L557.2,534.7 L559.1,534.7 L561.1,534.8 L563.1,535.0 L565.1,535.0 L567.1,535.2 L569.1,535.3 L571.2,535.4 L573.3,535.6 L575.4,535.7 L577.5,535.8 L579.6,536.0 L581.7,536.1 L583.8,536.2 L585.9,536.3 L588.0,536.5 L590.1,536.7 L592.2,536.8 L594.3,537.0 L596.3,537.2 L598.3,537.4 L600.4,537.5 L602.3,537.7 L604.3,537.9 L606.2,538.0 L608.1,538.2 L610.0,538.4 L611.8,538.5 L613.5,538.9 L615.2,539.0 L616.9,539.1 L619.3,539.5 L621.6,539.8 L623.9,540.2 L626.2,540.5 L628.4,540.8 L630.5,541.2 L632.7,541.5 L634.7,541.9 L636.8,542.2 L638.7,542.7 L640.7,543.1 L642.6,543.4 L644.5,543.9 L646.3,544.3 L648.1,544.7 L649.9,545.1 L651.6,545.5 L653.3,545.9 L655.0,546.4 L656.6,546.8 L658.3,547.2 L659.8,547.6 L661.4,548.0 L663.7,548.8 L665.9,549.4 L668.0,550.1 L670.0,550.9 L672.0,551.5 L673.8,552.2 L675.6,552.9 L677.3,553.6 L679.0,554.4 L680.6,555.1 L682.2,555.9 L683.7,556.7 L685.2,557.6 L686.7,558.4 L688.2,559.4 L690.0,560.4 L691.7,561.7 L693.4,562.9 L695.1,564.1 L696.6,565.4 L698.2,566.7 L699.6,568.1 L701.0,569.4 L702.4,570.7 L703.6,572.1 L704.8,573.5 L706.0,574.9 L707.3,576.6 L708.6,578.2 L709.6,579.9 L710.6,581.5 L711.7,583.1 L712.6,584.9 L713.5,586.6 L714.3,588.4 L715.1,590.2 L716.1,592.0 L716.7,593.7 L717.4,595.4 L718.1,597.0 L718.7,598.7 L719.4,600.4 L720.0,602.2 L720.5,604.0 L721.2,605.9 L721.8,607.8 L722.4,609.9 L723.0,612.0 L723.5,613.8 L724.0,615.6 L724.5,617.5 L724.9,619.4 L725.4,621.4 L726.0,623.4 L726.5,625.5 L727.0,627.6 L727.5,629.7 L728.0,631.8 L728.5,633.9 L729.0,635.9 L729.5,638.0 L730.0,640.0 L730.5,642.0 L730.9,644.0 L731.5,646.0 L732.0,648.1 L732.6,650.1 L733.1,652.1 L733.6,654.1 L734.2,656.1 L734.7,658.2 L735.2,660.2 L735.8,662.1 L736.3,664.1 L736.9,666.1 L737.4,668.0 L738.1,669.9 L738.7,671.9 L739.3,673.8 L740.0,675.8 L740.6,677.8 L741.3,679.7 L742.0,681.6 L742.6,683.5 L743.3,685.4 L744.0,687.2 L744.7,688.9 L745.3,690.6 L746.0,692.2 L746.8,693.7 L747.9,695.7 L748.8,697.5 L749.8,699.2 L750.8,700.9 L751.8,702.4 L752.9,703.8 L754.0,705.3 L755.2,706.7 L756.5,708.0 L757.9,709.3 L759.2,710.5 L760.7,711.7 L762.2,712.8 L763.7,713.9 L765.4,715.0 L767.0,716.0 L768.7,717.0 L770.4,718.0 L772.2,718.8 L774.0,719.7 L775.8,720.6 L777.6,721.2 L779.5,721.9 L781.4,722.5 L783.4,723.0 L785.3,723.5 L787.4,723.9 L789.4,724.4 L791.5,724.8 L793.6,725.2 L795.8,725.6 L798.0,726.0 L799.7,726.4 L801.5,726.7 L803.3,727.0 L805.1,727.3 L806.9,727.6 L808.7,727.9 L810.6,728.2 L812.5,728.4 L814.4,728.7 L816.4,729.0 L818.4,729.2 L820.5,729.4 L822.6,729.6 L824.8,729.8 L826.6,730.0 L828.6,730.0 L830.6,730.2 L832.8,730.2 L835.1,730.3 L837.4,730.3 L839.7,730.4 L842.0,730.5 L844.3,730.5 L846.6,730.5 L848.8,730.6 L850.9,730.6 L852.9,730.6 L854.8,730.6 L856.5,730.7 L858.1,730.7 L859.4,730.7 L860.5,730.6" fill="none" stroke="#df9c00" stroke-width="4.5" stroke-linecap="round" stroke-linejoin="round"/>
<path d="M443.3,533.3 L444.4,533.4 L445.6,533.5 L447.0,533.4 L448.5,533.2 L450.1,533.3 L451.8,533.2 L453.6,533.3 L455.6,533.3 L457.6,533.3 L459.6,533.2 L461.8,533.2 L464.0,533.1 L466.2,533.3 L468.5,533.3 L470.8,533.4 L473.2,533.2 L475.6,533.3 L477.9,533.3 L480.3,533.3 L482.6,533.2 L485.0,533.1 L487.3,533.2 L489.5,533.2 L491.8,533.4 L493.9,533.2 L496.0,533.3 L498.1,533.2 L500.0,533.3 L502.1,533.2 L504.2,533.3 L506.2,533.1 L508.2,533.2 L510.2,533.1 L512.1,533.2 L514.0,533.1 L515.9,533.3 L517.8,533.2 L519.7,533.3 L521.5,533.3 L523.4,533.3 L525.3,533.4 L527.2,533.4 L529.1,533.4 L531.0,533.2 L533.0,533.2 L535.0,533.1 L537.0,533.3 L539.0,533.2 L541.1,533.2 L543.3,533.1 L545.4,533.1 L547.7,533.1 L550.0,533.1 L551.8,533.0 L553.6,532.9 L555.5,532.7 L557.4,532.8 L559.3,532.7 L561.3,532.7 L563.3,532.5 L565.3,532.4 L567.3,532.3 L569.4,532.3 L571.5,532.2 L573.6,532.2 L575.7,532.0 L577.8,531.9 L579.9,531.7 L582.0,531.7 L584.2,531.6 L586.3,531.6 L588.4,531.3 L590.6,531.2 L592.7,531.1 L594.8,531.2 L596.9,531.0 L599.0,531.0 L601.1,530.6 L603.1,530.6 L605.2,530.4 L607.2,530.4 L609.2,530.2 L611.2,530.1 L613.1,529.9 L615.0,529.9 L616.9,529.8 L619.1,529.8 L621.3,529.6 L623.5,529.5 L625.6,529.2 L627.8,529.2 L630.0,529.0 L632.1,528.9 L634.3,528.7 L636.4,528.6 L638.5,528.4 L640.6,528.4 L642.7,528.2 L644.8,528.2 L646.8,527.8 L648.9,527.8 L650.9,527.6 L652.9,527.6 L654.8,527.4 L656.7,527.2 L658.6,526.8 L660.5,526.8 L662.3,526.5 L664.1,526.5 L665.9,526.4 L667.6,526.1 L669.3,526.1 L671.0,525.7 L672.6,525.6 L675.1,525.3 L677.5,525.1 L679.7,524.6 L681.7,524.3 L683.7,523.9 L685.6,523.7 L687.4,523.3 L689.1,523.2 L690.8,522.7 L692.6,522.3 L694.3,522.0 L696.0,521.6 L697.9,521.3 L699.7,520.7 L701.7,520.3 L703.8,519.7 L706.0,519.1 L707.7,518.7 L709.5,518.4 L711.4,517.9 L713.3,517.5 L715.2,516.9 L717.2,516.5 L719.2,516.0 L721.3,515.6 L723.4,515.0 L725.5,514.5 L727.5,513.8 L729.6,513.3 L731.6,512.7 L733.8,512.3 L735.7,511.6 L737.8,511.1 L739.7,510.4 L741.7,510.0 L743.6,509.4 L745.5,509.0 L747.2,508.3 L749.0,507.8 L750.6,507.2 L752.9,506.5 L754.9,505.6 L757.0,505.0 L758.9,504.0 L760.8,503.4 L762.5,502.5 L764.3,501.9 L766.0,501.2 L767.8,500.5 L769.4,499.6 L771.0,498.7 L772.7,497.9 L774.4,497.0 L776.3,496.3 L778.1,495.3 L780.0,494.4 L781.6,493.4 L783.3,492.8 L785.0,491.9 L786.8,491.3 L788.5,490.4 L790.3,489.6 L792.0,488.6 L793.8,487.7 L795.6,486.8 L797.4,486.0 L799.2,485.1 L800.9,484.1 L802.6,483.0 L804.4,482.1 L806.3,481.2 L808.1,480.3 L809.9,479.4 L811.7,478.4 L813.4,477.5 L815.0,476.4 L816.8,475.7 L818.4,474.5 L820.2,473.7 L821.7,472.4 L823.4,471.5 L825.0,470.4 L826.8,469.6 L828.5,468.5 L830.2,467.7 L831.8,466.5 L833.5,465.5 L835.1,464.4 L836.9,463.6 L838.6,462.5 L840.2,461.3 L841.9,460.3 L843.4,459.1 L845.2,458.2 L846.8,457.1 L848.7,456.4 L850.2,455.1 L852.0,454.2 L853.5,452.9 L855.3,452.1 L856.9,450.9 L858.8,450.2 L860.3,448.9 L861.9,447.8 L863.5,446.5 L865.2,445.5 L866.9,444.5 L868.7,443.6 L870.2,442.4 L871.9,441.3 L873.6,440.3 L875.3,439.3 L877.0,438.3 L878.7,437.3 L880.4,436.2 L881.9,435.0 L883.6,433.9 L885.2,432.8 L887.0,431.9 L888.6,430.8 L890.4,429.9 L891.9,428.6 L893.7,427.8 L895.3,426.6 L897.1,425.8 L898.7,424.7 L900.5,423.7 L902.0,422.4 L903.6,421.3 L905.3,420.3 L907.1,419.4 L908.6,418.1 L910.3,417.1 L911.9,415.8 L913.6,414.8 L915.4,413.8 L917.2,412.8 L918.8,411.7 L920.5,410.4 L922.1,409.2 L923.7,407.9 L925.4,406.8 L927.0,405.6 L928.7,404.4 L930.3,403.1 L931.9,401.8 L933.6,400.7 L935.5,399.7 L937.1,398.5 L938.8,397.4 L940.4,396.0 L942.1,395.0 L943.7,393.7 L945.6,392.9 L947.1,391.5 L948.8,390.4 L950.2,389.0 L952.0,388.1 L953.7,387.0 L955.6,386.3 L957.2,385.1 L958.9,384.2 L960.4,382.9 L962.3,382.1 L963.9,381.0 L965.7,380.1 L967.2,378.8 L968.9,377.8 L970.4,376.4 L972.1,375.5 L973.9,374.6 L975.6,373.6 L977.2,372.5 L978.9,371.4 L980.6,370.3 L982.2,369.1 L984.1,368.3 L985.7,367.0 L987.3,365.8 L988.8,364.5 L990.5,363.4 L992.1,362.1 L994.0,361.2 L995.6,360.1 L997.4,359.0 L998.8,357.5 L1000.7,356.6 L1002.3,355.4 L1004.1,354.4 L1005.8,353.2 L1007.4,351.9 L1008.9,350.4 L1010.7,349.4 L1012.2,348.0 L1014.0,347.0 L1015.4,345.5 L1017.2,344.6 L1018.6,343.1 L1020.5,342.2 L1022.0,340.9 L1023.9,340.0 L1025.3,338.5 L1026.9,337.3 L1028.4,335.9 L1030.2,334.8 L1031.7,333.4 L1033.4,332.4 L1034.8,330.9 L1036.5,329.7 L1038.0,328.4 L1039.8,327.5 L1041.3,326.2 L1043.0,325.1 L1044.4,323.7 L1045.9,322.4 L1047.5,321.3 L1049.1,320.0 L1050.7,318.8 L1052.4,317.6 L1053.9,316.3 L1055.4,314.8 L1057.2,313.8 L1058.9,312.7 L1060.6,311.6 L1062.1,310.2 L1063.7,309.1 L1065.2,307.7 L1066.7,306.6 L1068.2,305.3 L1069.9,304.3 L1071.1,302.8 L1072.8,301.9 L1073.9,300.4 L1075.6,299.5 L1076.9,298.4 L1078.5,297.5 L1080.1,296.0 L1081.7,294.5 L1083.3,293.0 L1084.9,291.8 L1086.4,290.5 L1087.9,289.2 L1089.2,287.8 L1090.5,286.4 L1092.0,285.1 L1093.3,283.8 L1094.9,282.7 L1096.3,281.4 L1097.9,280.2 L1099.0,278.6 L1100.7,277.4 L1102.0,276.0 L1103.7,274.9 L1104.8,273.2 L1106.3,271.9 L1107.5,270.3 L1109.1,269.0 L1110.5,267.6 L1112.1,266.4 L1113.5,264.9 L1115.0,263.6 L1116.2,262.0 L1117.6,260.6 L1119.2,259.4 L1120.4,257.9 L1121.9,256.7 L1122.9,255.0 L1124.3,253.4 L1125.5,251.7 L1127.1,250.2 L1128.3,248.6 L1129.7,247.1 L1130.9,245.4 L1132.4,244.0 L1133.4,242.2 L1135.0,240.9 L1136.0,239.1 L1137.2,237.6 L1138.2,235.8 L1139.4,234.2 L1140.5,232.6 L1142.0,231.2 L1143.0,229.4 L1144.3,227.8 L1145.2,226.0 L1146.6,224.5 L1147.8,222.9 L1149.2,221.5 L1150.1,219.7 L1151.4,218.2 L1152.1,216.4 L1153.2,214.8 L1154.3,213.3 L1155.3,211.9 L1156.4,210.4 L1157.5,208.4 L1158.7,206.5 L1160.0,204.8 L1161.3,203.2 L1162.4,201.5 L1163.5,199.8 L1164.4,198.0 L1165.4,196.2 L1166.2,194.4 L1167.3,192.6 L1168.3,190.8 L1169.3,189.1 L1169.9,187.2 L1170.8,185.4 L1171.7,183.5 L1172.9,181.8 L1173.5,179.9 L1174.4,178.0 L1174.9,176.1 L1175.7,174.3 L1176.3,172.4 L1177.3,170.5 L1178.0,168.3 L1178.6,166.1 L1179.1,163.8 L1180.1,161.7 L1181.0,159.8 L1181.7,157.9 L1182.2,156.2 L1182.7,154.8 L1182.9,153.6" fill="none" stroke="#df9c00" stroke-width="4.5" stroke-linecap="round" stroke-linejoin="round"/>
<g fill="#000"><rect x="243.49" y="957.3" width="10.9" height="4"/><rect x="314.74" y="948.15" width="10.9" height="13"/><rect x="385.98" y="957.3" width="10.9" height="4"/><rect x="457.22" y="948.15" width="10.9" height="13"/><rect x="528.47" y="957.3" width="10.9" height="4"/><rect x="599.71" y="948.15" width="10.9" height="13"/><rect x="670.96" y="957.3" width="10.9" height="4"/><rect x="742.20" y="948.15" width="10.9" height="13"/><rect x="813.44" y="957.3" width="10.9" height="4"/><rect x="884.69" y="948.15" width="10.9" height="13"/><rect x="955.93" y="957.3" width="10.9" height="4"/><rect x="1027.17" y="948.15" width="10.9" height="13"/><rect x="1098.42" y="957.3" width="10.9" height="4"/><rect x="1169.66" y="948.15" width="10.9" height="13"/><rect x="1240.91" y="957.3" width="10.9" height="4"/><rect x="182" y="114.94" width="4.7" height="10.4"/><rect x="182" y="191.78" width="13.86" height="10.4"/><rect x="182" y="268.61" width="4.7" height="10.4"/><rect x="182" y="345.45" width="13.86" height="10.4"/><rect x="182" y="422.29" width="4.7" height="10.4"/><rect x="182" y="499.13" width="13.86" height="10.4"/><rect x="182" y="575.96" width="4.7" height="10.4"/><rect x="182" y="652.80" width="13.86" height="10.4"/><rect x="182" y="729.64" width="4.7" height="10.4"/><rect x="182" y="806.48" width="13.86" height="10.4"/><rect x="182" y="883.31" width="4.7" height="10.4"/></g>
<path fill="#000" fill-rule="evenodd" d="M172.2,37.2H1323V970.9H172.2Z M183.25,48.9H1312.1V960.15H183.25Z"/>
<text x="158.3" y="59.3" font-size="48.3" text-anchor="end">0.2</text>
<text x="158.3" y="213.0" font-size="48.3" text-anchor="end">0.0</text>
<text x="158.3" y="366.7" font-size="48.3" text-anchor="end">−0.2</text>
<text x="158.3" y="520.3" font-size="48.3" text-anchor="end">−0.4</text>
<text x="158.3" y="674.0" font-size="48.3" text-anchor="end">−0.6</text>
<text x="158.3" y="827.7" font-size="48.3" text-anchor="end">−0.8</text>
<text x="158.3" y="981.4" font-size="48.3" text-anchor="end">−1.0</text>
<text x="176.9" y="1023.4" font-size="48.3" text-anchor="middle">−9</text>
<text x="319.4" y="1023.4" font-size="48.3" text-anchor="middle">−8</text>
<text x="461.9" y="1023.4" font-size="48.3" text-anchor="middle">−7</text>
<text x="604.4" y="1023.4" font-size="48.3" text-anchor="middle">−6</text>
<text x="746.8" y="1023.4" font-size="48.3" text-anchor="middle">−5</text>
<text x="889.3" y="1023.4" font-size="48.3" text-anchor="middle">−4</text>
<text x="1031.8" y="1023.4" font-size="48.3" text-anchor="middle">−3</text>
<text x="1174.3" y="1023.4" font-size="48.3" text-anchor="middle">−2</text>
<text x="1316.8" y="1023.4" font-size="48.3" text-anchor="middle">−1</text>
<text x="748.5" y="1102.6" font-size="47.7" font-weight="bold" text-anchor="middle">LOG i(A)</text>
<text transform="translate(51,503.7) rotate(-90)" font-size="47.7" font-weight="bold" text-anchor="middle">Potential(V)</text>
<line x1="199.2" y1="68.9" x2="305.9" y2="68.9" stroke="#4f4f4f" stroke-width="4.4" stroke-linecap="round"/>
<text x="317.6" y="84.9" font-size="48.3">HSLA100</text>
<line x1="199.2" y1="128.0" x2="305.9" y2="128.0" stroke="#fd3939" stroke-width="4.4" stroke-linecap="round"/>
<text x="317.6" y="144.1" font-size="48.3">S1</text>
<line x1="199.2" y1="187.1" x2="305.9" y2="187.1" stroke="#006ae1" stroke-width="4.4" stroke-linecap="round"/>
<text x="317.6" y="203.3" font-size="48.3">S2</text>
<line x1="199.2" y1="246.1" x2="305.9" y2="246.1" stroke="#04a662" stroke-width="4.4" stroke-linecap="round"/>
<text x="317.6" y="262.5" font-size="48.3">S3</text>
<line x1="199.2" y1="305.2" x2="305.9" y2="305.2" stroke="#c27ae8" stroke-width="4.4" stroke-linecap="round"/>
<text x="317.6" y="321.7" font-size="48.3">S4</text>
<line x1="199.2" y1="364.3" x2="305.9" y2="364.3" stroke="#df9c00" stroke-width="4.4" stroke-linecap="round"/>
<text x="317.6" y="380.9" font-size="48.3">S5</text>
</svg>
</body></html>
